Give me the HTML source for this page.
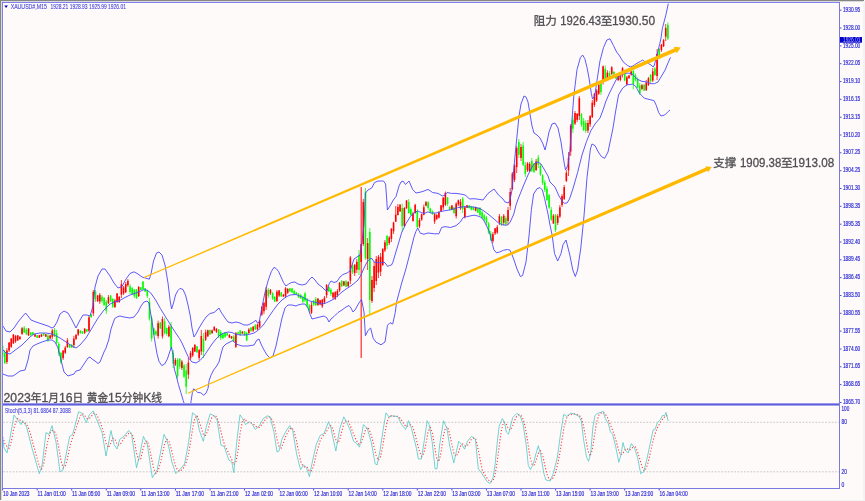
<!DOCTYPE html><html><head><meta charset="utf-8"><title>XAUUSD M15</title><style>
html,body{margin:0;padding:0;background:#fffafa;overflow:hidden;}
svg{display:block;}
.ax{font-family:"Liberation Sans",sans-serif;font-size:6.4px;fill:#2020d4;stroke:#3030d8;stroke-width:0.16px;}
.ax2{font-family:"Liberation Sans",sans-serif;font-size:6.5px;fill:#3434dc;stroke:#5050e4;stroke-width:0.08px;}
.cn{font-family:"Liberation Sans","Noto Sans CJK SC",sans-serif;fill:#4e4e52;stroke:#4e4e52;stroke-width:0.3px;}
</style></head><body>
<svg width="865" height="501" viewBox="0 0 865 501">
<rect x="0" y="0" width="865" height="501" fill="#fffafa"/>
<rect x="0" y="0" width="864" height="1" fill="#858783"/>
<rect x="0" y="0" width="1" height="500" fill="#858783"/>
<rect x="1" y="1" width="862" height="1" fill="#dcd8e0"/>
<rect x="1" y="1" width="1" height="499" fill="#dcd8e0"/>
<rect x="863" y="1" width="2" height="500" fill="#f3f3f3"/>
<rect x="0" y="500" width="865" height="1" fill="#f3f3f3"/>
<rect x="3" y="3" width="836" height="1" fill="#fcfffc"/>
<rect x="3" y="3" width="1" height="485" fill="#fcfffc"/>
<defs><clipPath id="cm"><rect x="3" y="3" width="836" height="400"/></clipPath>
<clipPath id="cs"><rect x="3" y="405" width="836" height="83"/></clipPath></defs>
<g clip-path="url(#cm)">
<line x1="2.60" y1="344.0" x2="2.60" y2="358.0" stroke="#00ff00" stroke-width="0.75"/>
<rect x="1.80" y="345.6" width="1.6" height="11.3" fill="#00ff00"/>
<line x1="4.76" y1="350.0" x2="4.76" y2="364.0" stroke="#00ff00" stroke-width="0.75"/>
<rect x="3.96" y="352.5" width="1.6" height="10.6" fill="#00ff00"/>
<line x1="6.92" y1="348.0" x2="6.92" y2="364.0" stroke="#ff0000" stroke-width="0.75"/>
<rect x="6.12" y="350.5" width="1.6" height="11.5" fill="#ff0000"/>
<line x1="9.08" y1="342.0" x2="9.08" y2="352.0" stroke="#ff0000" stroke-width="0.75"/>
<rect x="8.28" y="342.6" width="1.6" height="7.9" fill="#ff0000"/>
<line x1="11.24" y1="338.0" x2="11.24" y2="348.0" stroke="#ff0000" stroke-width="0.75"/>
<rect x="10.44" y="338.6" width="1.6" height="8.1" fill="#ff0000"/>
<line x1="13.40" y1="334.0" x2="13.40" y2="344.0" stroke="#ff0000" stroke-width="0.75"/>
<rect x="12.60" y="334.6" width="1.6" height="8.7" fill="#ff0000"/>
<line x1="15.56" y1="335.0" x2="15.56" y2="343.0" stroke="#ff0000" stroke-width="0.75"/>
<rect x="14.76" y="336.1" width="1.6" height="5.2" fill="#ff0000"/>
<line x1="17.72" y1="335.0" x2="17.72" y2="341.0" stroke="#ff0000" stroke-width="0.75"/>
<rect x="16.92" y="335.4" width="1.6" height="5.0" fill="#ff0000"/>
<line x1="19.88" y1="336.0" x2="19.88" y2="340.0" stroke="#ff0000" stroke-width="0.75"/>
<rect x="19.08" y="336.7" width="1.6" height="2.3" fill="#ff0000"/>
<line x1="22.04" y1="327.0" x2="22.04" y2="335.0" stroke="#ff0000" stroke-width="0.75"/>
<rect x="21.24" y="328.3" width="1.6" height="5.6" fill="#ff0000"/>
<line x1="24.20" y1="326.0" x2="24.20" y2="333.0" stroke="#00ff00" stroke-width="0.75"/>
<rect x="23.40" y="327.7" width="1.6" height="4.9" fill="#00ff00"/>
<line x1="26.36" y1="328.0" x2="26.36" y2="335.0" stroke="#00ff00" stroke-width="0.75"/>
<rect x="25.56" y="329.6" width="1.6" height="4.7" fill="#00ff00"/>
<line x1="28.52" y1="328.0" x2="28.52" y2="336.0" stroke="#ff0000" stroke-width="0.75"/>
<rect x="27.72" y="328.6" width="1.6" height="6.8" fill="#ff0000"/>
<line x1="30.68" y1="332.0" x2="30.68" y2="336.0" stroke="#00ff00" stroke-width="0.75"/>
<rect x="29.88" y="332.4" width="1.6" height="2.7" fill="#00ff00"/>
<line x1="32.84" y1="332.0" x2="32.84" y2="335.0" stroke="#00ff00" stroke-width="0.75"/>
<rect x="32.04" y="332.3" width="1.6" height="2.2" fill="#00ff00"/>
<line x1="35.00" y1="334.0" x2="35.00" y2="337.0" stroke="#ff0000" stroke-width="0.75"/>
<rect x="34.20" y="334.5" width="1.6" height="2.1" fill="#ff0000"/>
<line x1="37.16" y1="335.0" x2="37.16" y2="338.0" stroke="#00ff00" stroke-width="0.75"/>
<rect x="36.36" y="335.5" width="1.6" height="2.3" fill="#00ff00"/>
<line x1="39.32" y1="335.0" x2="39.32" y2="338.0" stroke="#ff0000" stroke-width="0.75"/>
<rect x="38.52" y="335.2" width="1.6" height="2.5" fill="#ff0000"/>
<line x1="41.48" y1="334.0" x2="41.48" y2="337.0" stroke="#ff0000" stroke-width="0.75"/>
<rect x="40.68" y="334.6" width="1.6" height="2.0" fill="#ff0000"/>
<line x1="43.64" y1="333.0" x2="43.64" y2="336.0" stroke="#00ff00" stroke-width="0.75"/>
<rect x="42.84" y="333.3" width="1.6" height="2.2" fill="#00ff00"/>
<line x1="45.80" y1="334.0" x2="45.80" y2="337.0" stroke="#ff0000" stroke-width="0.75"/>
<rect x="45.00" y="334.4" width="1.6" height="2.2" fill="#ff0000"/>
<line x1="47.96" y1="334.0" x2="47.96" y2="342.0" stroke="#00ff00" stroke-width="0.75"/>
<rect x="47.16" y="335.7" width="1.6" height="4.8" fill="#00ff00"/>
<line x1="50.12" y1="335.0" x2="50.12" y2="339.0" stroke="#ff0000" stroke-width="0.75"/>
<rect x="49.32" y="335.4" width="1.6" height="2.9" fill="#ff0000"/>
<line x1="52.28" y1="329.0" x2="52.28" y2="339.0" stroke="#ff0000" stroke-width="0.75"/>
<rect x="51.48" y="330.6" width="1.6" height="6.2" fill="#ff0000"/>
<line x1="54.44" y1="328.0" x2="54.44" y2="337.0" stroke="#00ff00" stroke-width="0.75"/>
<rect x="53.64" y="329.8" width="1.6" height="6.3" fill="#00ff00"/>
<line x1="56.60" y1="330.0" x2="56.60" y2="344.0" stroke="#00ff00" stroke-width="0.75"/>
<rect x="55.80" y="333.4" width="1.6" height="9.5" fill="#00ff00"/>
<line x1="58.76" y1="342.0" x2="58.76" y2="356.0" stroke="#00ff00" stroke-width="0.75"/>
<rect x="57.96" y="343.9" width="1.6" height="9.3" fill="#00ff00"/>
<line x1="60.92" y1="352.0" x2="60.92" y2="364.0" stroke="#00ff00" stroke-width="0.75"/>
<rect x="60.12" y="353.0" width="1.6" height="9.3" fill="#00ff00"/>
<line x1="63.08" y1="350.0" x2="63.08" y2="360.0" stroke="#ff0000" stroke-width="0.75"/>
<rect x="62.28" y="350.6" width="1.6" height="7.6" fill="#ff0000"/>
<line x1="65.24" y1="346.0" x2="65.24" y2="354.0" stroke="#ff0000" stroke-width="0.75"/>
<rect x="64.44" y="347.6" width="1.6" height="5.1" fill="#ff0000"/>
<line x1="67.40" y1="338.0" x2="67.40" y2="348.0" stroke="#ff0000" stroke-width="0.75"/>
<rect x="66.60" y="340.3" width="1.6" height="6.6" fill="#ff0000"/>
<line x1="69.56" y1="344.0" x2="69.56" y2="348.0" stroke="#00ff00" stroke-width="0.75"/>
<rect x="68.76" y="344.8" width="1.6" height="2.6" fill="#00ff00"/>
<line x1="71.72" y1="344.0" x2="71.72" y2="348.0" stroke="#00ff00" stroke-width="0.75"/>
<rect x="70.92" y="344.7" width="1.6" height="2.8" fill="#00ff00"/>
<line x1="73.88" y1="336.0" x2="73.88" y2="348.0" stroke="#ff0000" stroke-width="0.75"/>
<rect x="73.08" y="338.6" width="1.6" height="6.5" fill="#ff0000"/>
<line x1="76.04" y1="334.0" x2="76.04" y2="340.0" stroke="#ff0000" stroke-width="0.75"/>
<rect x="75.24" y="334.9" width="1.6" height="4.0" fill="#ff0000"/>
<line x1="78.20" y1="329.0" x2="78.20" y2="336.0" stroke="#ff0000" stroke-width="0.75"/>
<rect x="77.40" y="329.4" width="1.6" height="5.2" fill="#ff0000"/>
<line x1="80.36" y1="330.0" x2="80.36" y2="334.0" stroke="#00ff00" stroke-width="0.75"/>
<rect x="79.56" y="330.7" width="1.6" height="2.3" fill="#00ff00"/>
<line x1="82.52" y1="331.0" x2="82.52" y2="334.0" stroke="#00ff00" stroke-width="0.75"/>
<rect x="81.72" y="331.6" width="1.6" height="2.0" fill="#00ff00"/>
<line x1="84.68" y1="328.0" x2="84.68" y2="334.0" stroke="#ff0000" stroke-width="0.75"/>
<rect x="83.88" y="328.8" width="1.6" height="4.1" fill="#ff0000"/>
<line x1="86.84" y1="329.0" x2="86.84" y2="332.0" stroke="#00ff00" stroke-width="0.75"/>
<rect x="86.04" y="329.2" width="1.6" height="2.4" fill="#00ff00"/>
<line x1="89.00" y1="316.0" x2="89.00" y2="332.0" stroke="#ff0000" stroke-width="0.75"/>
<rect x="88.20" y="317.3" width="1.6" height="13.5" fill="#ff0000"/>
<line x1="91.16" y1="314.0" x2="91.16" y2="318.0" stroke="#00ff00" stroke-width="0.75"/>
<rect x="90.36" y="314.2" width="1.6" height="2.9" fill="#00ff00"/>
<line x1="93.32" y1="290.0" x2="93.32" y2="316.0" stroke="#ff0000" stroke-width="0.75"/>
<rect x="92.52" y="292.0" width="1.6" height="21.4" fill="#ff0000"/>
<line x1="95.48" y1="290.0" x2="95.48" y2="302.0" stroke="#00ff00" stroke-width="0.75"/>
<rect x="94.68" y="291.5" width="1.6" height="7.8" fill="#00ff00"/>
<line x1="97.64" y1="295.0" x2="97.64" y2="302.0" stroke="#ff0000" stroke-width="0.75"/>
<rect x="96.84" y="295.5" width="1.6" height="5.6" fill="#ff0000"/>
<line x1="99.80" y1="293.0" x2="99.80" y2="304.0" stroke="#ff0000" stroke-width="0.75"/>
<rect x="99.00" y="294.8" width="1.6" height="6.7" fill="#ff0000"/>
<line x1="101.96" y1="295.0" x2="101.96" y2="303.0" stroke="#00ff00" stroke-width="0.75"/>
<rect x="101.16" y="296.7" width="1.6" height="4.5" fill="#00ff00"/>
<line x1="104.12" y1="297.0" x2="104.12" y2="306.0" stroke="#00ff00" stroke-width="0.75"/>
<rect x="103.32" y="298.0" width="1.6" height="6.9" fill="#00ff00"/>
<line x1="106.28" y1="300.0" x2="106.28" y2="314.0" stroke="#00ff00" stroke-width="0.75"/>
<rect x="105.48" y="301.7" width="1.6" height="9.1" fill="#00ff00"/>
<line x1="108.44" y1="295.0" x2="108.44" y2="304.0" stroke="#ff0000" stroke-width="0.75"/>
<rect x="107.64" y="297.2" width="1.6" height="6.1" fill="#ff0000"/>
<line x1="110.60" y1="295.0" x2="110.60" y2="302.0" stroke="#00ff00" stroke-width="0.75"/>
<rect x="109.80" y="295.6" width="1.6" height="5.7" fill="#00ff00"/>
<line x1="112.76" y1="298.0" x2="112.76" y2="308.0" stroke="#00ff00" stroke-width="0.75"/>
<rect x="111.96" y="299.0" width="1.6" height="7.6" fill="#00ff00"/>
<line x1="114.92" y1="299.0" x2="114.92" y2="308.0" stroke="#ff0000" stroke-width="0.75"/>
<rect x="114.12" y="300.5" width="1.6" height="6.6" fill="#ff0000"/>
<line x1="117.08" y1="293.0" x2="117.08" y2="303.0" stroke="#ff0000" stroke-width="0.75"/>
<rect x="116.28" y="293.5" width="1.6" height="8.2" fill="#ff0000"/>
<line x1="119.24" y1="296.0" x2="119.24" y2="303.0" stroke="#ff0000" stroke-width="0.75"/>
<rect x="118.44" y="296.9" width="1.6" height="5.0" fill="#ff0000"/>
<line x1="121.40" y1="280.0" x2="121.40" y2="298.0" stroke="#ff0000" stroke-width="0.75"/>
<rect x="120.60" y="284.3" width="1.6" height="10.3" fill="#ff0000"/>
<line x1="123.56" y1="286.0" x2="123.56" y2="295.0" stroke="#ff0000" stroke-width="0.75"/>
<rect x="122.76" y="287.4" width="1.6" height="6.1" fill="#ff0000"/>
<line x1="125.72" y1="282.0" x2="125.72" y2="293.0" stroke="#ff0000" stroke-width="0.75"/>
<rect x="124.92" y="284.0" width="1.6" height="8.3" fill="#ff0000"/>
<line x1="127.88" y1="279.0" x2="127.88" y2="287.0" stroke="#ff0000" stroke-width="0.75"/>
<rect x="127.08" y="280.8" width="1.6" height="4.5" fill="#ff0000"/>
<line x1="130.04" y1="284.0" x2="130.04" y2="294.0" stroke="#00ff00" stroke-width="0.75"/>
<rect x="129.24" y="286.2" width="1.6" height="5.7" fill="#00ff00"/>
<line x1="132.20" y1="287.0" x2="132.20" y2="295.0" stroke="#00ff00" stroke-width="0.75"/>
<rect x="131.40" y="288.0" width="1.6" height="5.9" fill="#00ff00"/>
<line x1="134.36" y1="289.0" x2="134.36" y2="298.0" stroke="#00ff00" stroke-width="0.75"/>
<rect x="133.56" y="289.6" width="1.6" height="6.8" fill="#00ff00"/>
<line x1="136.52" y1="289.0" x2="136.52" y2="299.0" stroke="#00ff00" stroke-width="0.75"/>
<rect x="135.72" y="289.6" width="1.6" height="8.7" fill="#00ff00"/>
<line x1="138.68" y1="286.0" x2="138.68" y2="297.0" stroke="#ff0000" stroke-width="0.75"/>
<rect x="137.88" y="287.0" width="1.6" height="9.1" fill="#ff0000"/>
<line x1="140.84" y1="287.0" x2="140.84" y2="290.0" stroke="#00ff00" stroke-width="0.75"/>
<rect x="140.04" y="287.4" width="1.6" height="2.5" fill="#00ff00"/>
<line x1="143.00" y1="281.0" x2="143.00" y2="290.0" stroke="#00ff00" stroke-width="0.75"/>
<rect x="142.20" y="281.5" width="1.6" height="7.8" fill="#00ff00"/>
<line x1="145.16" y1="288.0" x2="145.16" y2="292.0" stroke="#00ff00" stroke-width="0.75"/>
<rect x="144.36" y="288.3" width="1.6" height="3.2" fill="#00ff00"/>
<line x1="147.32" y1="290.0" x2="147.32" y2="298.0" stroke="#00ff00" stroke-width="0.75"/>
<rect x="146.52" y="290.4" width="1.6" height="5.8" fill="#00ff00"/>
<line x1="149.48" y1="298.0" x2="149.48" y2="320.6" stroke="#00ff00" stroke-width="0.75"/>
<rect x="148.68" y="301.9" width="1.6" height="16.9" fill="#00ff00"/>
<line x1="151.64" y1="316.0" x2="151.64" y2="341.5" stroke="#00ff00" stroke-width="0.75"/>
<rect x="150.84" y="318.6" width="1.6" height="19.9" fill="#00ff00"/>
<line x1="153.80" y1="327.6" x2="153.80" y2="335.0" stroke="#00ff00" stroke-width="0.75"/>
<rect x="153.00" y="328.5" width="1.6" height="5.9" fill="#00ff00"/>
<line x1="155.96" y1="330.0" x2="155.96" y2="336.0" stroke="#00ff00" stroke-width="0.75"/>
<rect x="155.16" y="331.3" width="1.6" height="3.2" fill="#00ff00"/>
<line x1="158.12" y1="320.6" x2="158.12" y2="338.7" stroke="#ff0000" stroke-width="0.75"/>
<rect x="157.32" y="323.2" width="1.6" height="12.9" fill="#ff0000"/>
<line x1="160.28" y1="322.0" x2="160.28" y2="329.0" stroke="#00ff00" stroke-width="0.75"/>
<rect x="159.48" y="322.5" width="1.6" height="6.0" fill="#00ff00"/>
<line x1="162.44" y1="316.4" x2="162.44" y2="338.7" stroke="#ff0000" stroke-width="0.75"/>
<rect x="161.64" y="319.0" width="1.6" height="17.4" fill="#ff0000"/>
<line x1="164.60" y1="317.8" x2="164.60" y2="334.5" stroke="#00ff00" stroke-width="0.75"/>
<rect x="163.80" y="321.4" width="1.6" height="11.7" fill="#00ff00"/>
<line x1="166.76" y1="327.6" x2="166.76" y2="336.0" stroke="#00ff00" stroke-width="0.75"/>
<rect x="165.96" y="328.1" width="1.6" height="5.9" fill="#00ff00"/>
<line x1="168.92" y1="324.8" x2="168.92" y2="337.3" stroke="#ff0000" stroke-width="0.75"/>
<rect x="168.12" y="326.7" width="1.6" height="9.6" fill="#ff0000"/>
<line x1="171.08" y1="322.0" x2="171.08" y2="350.0" stroke="#00ff00" stroke-width="0.75"/>
<rect x="170.28" y="326.4" width="1.6" height="22.0" fill="#00ff00"/>
<line x1="173.24" y1="350.0" x2="173.24" y2="368.0" stroke="#00ff00" stroke-width="0.75"/>
<rect x="172.44" y="352.8" width="1.6" height="10.8" fill="#00ff00"/>
<line x1="175.40" y1="358.0" x2="175.40" y2="366.0" stroke="#ff0000" stroke-width="0.75"/>
<rect x="174.60" y="359.8" width="1.6" height="4.7" fill="#ff0000"/>
<line x1="177.56" y1="358.0" x2="177.56" y2="379.0" stroke="#00ff00" stroke-width="0.75"/>
<rect x="176.76" y="360.1" width="1.6" height="16.3" fill="#00ff00"/>
<line x1="179.72" y1="358.0" x2="179.72" y2="369.0" stroke="#00ff00" stroke-width="0.75"/>
<rect x="178.92" y="358.9" width="1.6" height="7.8" fill="#00ff00"/>
<line x1="181.88" y1="360.0" x2="181.88" y2="370.0" stroke="#ff0000" stroke-width="0.75"/>
<rect x="181.08" y="361.6" width="1.6" height="6.4" fill="#ff0000"/>
<line x1="184.04" y1="364.0" x2="184.04" y2="378.0" stroke="#00ff00" stroke-width="0.75"/>
<rect x="183.24" y="365.6" width="1.6" height="11.1" fill="#00ff00"/>
<line x1="186.20" y1="364.0" x2="186.20" y2="394.0" stroke="#00ff00" stroke-width="0.75"/>
<rect x="185.40" y="370.4" width="1.6" height="16.2" fill="#00ff00"/>
<line x1="188.36" y1="358.0" x2="188.36" y2="379.0" stroke="#ff0000" stroke-width="0.75"/>
<rect x="187.56" y="362.6" width="1.6" height="11.9" fill="#ff0000"/>
<line x1="190.52" y1="351.0" x2="190.52" y2="360.0" stroke="#ff0000" stroke-width="0.75"/>
<rect x="189.72" y="352.9" width="1.6" height="5.3" fill="#ff0000"/>
<line x1="192.68" y1="347.0" x2="192.68" y2="357.0" stroke="#ff0000" stroke-width="0.75"/>
<rect x="191.88" y="348.0" width="1.6" height="7.5" fill="#ff0000"/>
<line x1="194.84" y1="344.0" x2="194.84" y2="352.0" stroke="#ff0000" stroke-width="0.75"/>
<rect x="194.04" y="345.0" width="1.6" height="6.6" fill="#ff0000"/>
<line x1="197.00" y1="346.0" x2="197.00" y2="353.0" stroke="#00ff00" stroke-width="0.75"/>
<rect x="196.20" y="346.4" width="1.6" height="5.9" fill="#00ff00"/>
<line x1="199.16" y1="349.0" x2="199.16" y2="360.0" stroke="#ff0000" stroke-width="0.75"/>
<rect x="198.36" y="350.1" width="1.6" height="7.8" fill="#ff0000"/>
<line x1="201.32" y1="330.0" x2="201.32" y2="355.0" stroke="#ff0000" stroke-width="0.75"/>
<rect x="200.52" y="336.0" width="1.6" height="15.5" fill="#ff0000"/>
<line x1="203.48" y1="333.0" x2="203.48" y2="358.0" stroke="#00ff00" stroke-width="0.75"/>
<rect x="202.68" y="338.9" width="1.6" height="12.9" fill="#00ff00"/>
<line x1="205.64" y1="329.6" x2="205.64" y2="341.0" stroke="#ff0000" stroke-width="0.75"/>
<rect x="204.84" y="332.3" width="1.6" height="7.3" fill="#ff0000"/>
<line x1="207.80" y1="329.6" x2="207.80" y2="337.0" stroke="#ff0000" stroke-width="0.75"/>
<rect x="207.00" y="330.3" width="1.6" height="6.0" fill="#ff0000"/>
<line x1="209.96" y1="329.6" x2="209.96" y2="335.0" stroke="#00ff00" stroke-width="0.75"/>
<rect x="209.16" y="330.1" width="1.6" height="4.4" fill="#00ff00"/>
<line x1="212.12" y1="329.6" x2="212.12" y2="334.0" stroke="#ff0000" stroke-width="0.75"/>
<rect x="211.32" y="330.4" width="1.6" height="2.6" fill="#ff0000"/>
<line x1="214.28" y1="326.0" x2="214.28" y2="331.0" stroke="#ff0000" stroke-width="0.75"/>
<rect x="213.48" y="327.1" width="1.6" height="3.2" fill="#ff0000"/>
<line x1="216.44" y1="328.0" x2="216.44" y2="333.0" stroke="#ff0000" stroke-width="0.75"/>
<rect x="215.64" y="328.9" width="1.6" height="3.0" fill="#ff0000"/>
<line x1="218.60" y1="329.0" x2="218.60" y2="338.0" stroke="#00ff00" stroke-width="0.75"/>
<rect x="217.80" y="329.6" width="1.6" height="6.8" fill="#00ff00"/>
<line x1="220.76" y1="330.0" x2="220.76" y2="340.0" stroke="#00ff00" stroke-width="0.75"/>
<rect x="219.96" y="332.3" width="1.6" height="5.6" fill="#00ff00"/>
<line x1="222.92" y1="333.0" x2="222.92" y2="339.0" stroke="#00ff00" stroke-width="0.75"/>
<rect x="222.12" y="334.2" width="1.6" height="3.9" fill="#00ff00"/>
<line x1="225.08" y1="332.0" x2="225.08" y2="338.0" stroke="#00ff00" stroke-width="0.75"/>
<rect x="224.28" y="332.5" width="1.6" height="4.2" fill="#00ff00"/>
<line x1="227.24" y1="333.0" x2="227.24" y2="336.0" stroke="#00ff00" stroke-width="0.75"/>
<rect x="226.44" y="333.3" width="1.6" height="2.0" fill="#00ff00"/>
<line x1="229.40" y1="334.0" x2="229.40" y2="338.0" stroke="#ff0000" stroke-width="0.75"/>
<rect x="228.60" y="335.0" width="1.6" height="2.5" fill="#ff0000"/>
<line x1="231.56" y1="336.0" x2="231.56" y2="339.0" stroke="#ff0000" stroke-width="0.75"/>
<rect x="230.76" y="336.4" width="1.6" height="1.9" fill="#ff0000"/>
<line x1="233.72" y1="335.0" x2="233.72" y2="342.0" stroke="#00ff00" stroke-width="0.75"/>
<rect x="232.92" y="336.4" width="1.6" height="5.0" fill="#00ff00"/>
<line x1="235.88" y1="332.0" x2="235.88" y2="348.0" stroke="#ff0000" stroke-width="0.75"/>
<rect x="235.08" y="333.2" width="1.6" height="13.5" fill="#ff0000"/>
<line x1="238.04" y1="331.8" x2="238.04" y2="334.2" stroke="#00ff00" stroke-width="0.75"/>
<rect x="237.24" y="332.3" width="1.6" height="1.4" fill="#00ff00"/>
<line x1="240.20" y1="330.0" x2="240.20" y2="336.0" stroke="#00ff00" stroke-width="0.75"/>
<rect x="239.40" y="330.5" width="1.6" height="4.2" fill="#00ff00"/>
<line x1="242.36" y1="331.0" x2="242.36" y2="334.0" stroke="#ff0000" stroke-width="0.75"/>
<rect x="241.56" y="331.7" width="1.6" height="1.7" fill="#ff0000"/>
<line x1="244.52" y1="331.0" x2="244.52" y2="336.0" stroke="#00ff00" stroke-width="0.75"/>
<rect x="243.72" y="331.6" width="1.6" height="3.6" fill="#00ff00"/>
<line x1="246.68" y1="332.0" x2="246.68" y2="341.0" stroke="#00ff00" stroke-width="0.75"/>
<rect x="245.88" y="332.7" width="1.6" height="7.8" fill="#00ff00"/>
<line x1="248.84" y1="328.0" x2="248.84" y2="334.0" stroke="#ff0000" stroke-width="0.75"/>
<rect x="248.04" y="329.5" width="1.6" height="3.5" fill="#ff0000"/>
<line x1="251.00" y1="327.0" x2="251.00" y2="332.0" stroke="#00ff00" stroke-width="0.75"/>
<rect x="250.20" y="327.8" width="1.6" height="3.0" fill="#00ff00"/>
<line x1="253.16" y1="326.0" x2="253.16" y2="332.0" stroke="#ff0000" stroke-width="0.75"/>
<rect x="252.36" y="326.8" width="1.6" height="3.8" fill="#ff0000"/>
<line x1="255.32" y1="324.0" x2="255.32" y2="330.0" stroke="#00ff00" stroke-width="0.75"/>
<rect x="254.52" y="325.3" width="1.6" height="4.2" fill="#00ff00"/>
<line x1="257.48" y1="324.0" x2="257.48" y2="330.0" stroke="#ff0000" stroke-width="0.75"/>
<rect x="256.68" y="324.6" width="1.6" height="4.7" fill="#ff0000"/>
<line x1="259.64" y1="320.0" x2="259.64" y2="328.0" stroke="#ff0000" stroke-width="0.75"/>
<rect x="258.84" y="320.8" width="1.6" height="5.9" fill="#ff0000"/>
<line x1="261.80" y1="306.0" x2="261.80" y2="316.0" stroke="#ff0000" stroke-width="0.75"/>
<rect x="261.00" y="307.0" width="1.6" height="7.6" fill="#ff0000"/>
<line x1="263.96" y1="302.0" x2="263.96" y2="314.0" stroke="#ff0000" stroke-width="0.75"/>
<rect x="263.16" y="302.9" width="1.6" height="8.3" fill="#ff0000"/>
<line x1="266.12" y1="287.0" x2="266.12" y2="310.0" stroke="#ff0000" stroke-width="0.75"/>
<rect x="265.32" y="289.8" width="1.6" height="17.0" fill="#ff0000"/>
<line x1="268.28" y1="288.0" x2="268.28" y2="298.0" stroke="#00ff00" stroke-width="0.75"/>
<rect x="267.48" y="289.7" width="1.6" height="6.0" fill="#00ff00"/>
<line x1="270.44" y1="289.0" x2="270.44" y2="295.0" stroke="#ff0000" stroke-width="0.75"/>
<rect x="269.64" y="289.8" width="1.6" height="3.8" fill="#ff0000"/>
<line x1="272.60" y1="292.0" x2="272.60" y2="300.0" stroke="#00ff00" stroke-width="0.75"/>
<rect x="271.80" y="293.2" width="1.6" height="5.5" fill="#00ff00"/>
<line x1="274.76" y1="296.0" x2="274.76" y2="302.0" stroke="#00ff00" stroke-width="0.75"/>
<rect x="273.96" y="296.9" width="1.6" height="4.7" fill="#00ff00"/>
<line x1="276.92" y1="290.0" x2="276.92" y2="302.0" stroke="#ff0000" stroke-width="0.75"/>
<rect x="276.12" y="291.7" width="1.6" height="9.3" fill="#ff0000"/>
<line x1="279.08" y1="290.0" x2="279.08" y2="297.0" stroke="#ff0000" stroke-width="0.75"/>
<rect x="278.28" y="290.4" width="1.6" height="5.2" fill="#ff0000"/>
<line x1="281.24" y1="292.0" x2="281.24" y2="297.0" stroke="#00ff00" stroke-width="0.75"/>
<rect x="280.44" y="292.4" width="1.6" height="3.9" fill="#00ff00"/>
<line x1="283.40" y1="294.0" x2="283.40" y2="297.0" stroke="#ff0000" stroke-width="0.75"/>
<rect x="282.60" y="294.6" width="1.6" height="1.9" fill="#ff0000"/>
<line x1="285.56" y1="287.0" x2="285.56" y2="298.0" stroke="#ff0000" stroke-width="0.75"/>
<rect x="284.76" y="288.3" width="1.6" height="8.0" fill="#ff0000"/>
<line x1="287.72" y1="288.0" x2="287.72" y2="294.0" stroke="#ff0000" stroke-width="0.75"/>
<rect x="286.92" y="289.0" width="1.6" height="3.8" fill="#ff0000"/>
<line x1="289.88" y1="288.0" x2="289.88" y2="292.0" stroke="#00ff00" stroke-width="0.75"/>
<rect x="289.08" y="288.3" width="1.6" height="3.1" fill="#00ff00"/>
<line x1="292.04" y1="288.0" x2="292.04" y2="293.0" stroke="#00ff00" stroke-width="0.75"/>
<rect x="291.24" y="288.5" width="1.6" height="4.0" fill="#00ff00"/>
<line x1="294.20" y1="290.0" x2="294.20" y2="295.0" stroke="#00ff00" stroke-width="0.75"/>
<rect x="293.40" y="291.0" width="1.6" height="3.2" fill="#00ff00"/>
<line x1="296.36" y1="292.0" x2="296.36" y2="295.0" stroke="#00ff00" stroke-width="0.75"/>
<rect x="295.56" y="292.5" width="1.6" height="1.9" fill="#00ff00"/>
<line x1="298.52" y1="293.0" x2="298.52" y2="298.0" stroke="#00ff00" stroke-width="0.75"/>
<rect x="297.72" y="294.2" width="1.6" height="3.1" fill="#00ff00"/>
<line x1="300.68" y1="294.0" x2="300.68" y2="299.0" stroke="#00ff00" stroke-width="0.75"/>
<rect x="299.88" y="294.9" width="1.6" height="3.4" fill="#00ff00"/>
<line x1="302.84" y1="296.0" x2="302.84" y2="303.0" stroke="#00ff00" stroke-width="0.75"/>
<rect x="302.04" y="297.1" width="1.6" height="4.6" fill="#00ff00"/>
<line x1="305.00" y1="292.0" x2="305.00" y2="302.0" stroke="#00ff00" stroke-width="0.75"/>
<rect x="304.20" y="293.4" width="1.6" height="7.0" fill="#00ff00"/>
<line x1="307.16" y1="298.0" x2="307.16" y2="308.0" stroke="#00ff00" stroke-width="0.75"/>
<rect x="306.36" y="299.5" width="1.6" height="6.2" fill="#00ff00"/>
<line x1="309.32" y1="304.0" x2="309.32" y2="312.0" stroke="#00ff00" stroke-width="0.75"/>
<rect x="308.52" y="305.5" width="1.6" height="4.7" fill="#00ff00"/>
<line x1="311.48" y1="302.0" x2="311.48" y2="314.0" stroke="#ff0000" stroke-width="0.75"/>
<rect x="310.68" y="304.9" width="1.6" height="7.9" fill="#ff0000"/>
<line x1="313.64" y1="300.0" x2="313.64" y2="306.0" stroke="#00ff00" stroke-width="0.75"/>
<rect x="312.84" y="301.0" width="1.6" height="3.6" fill="#00ff00"/>
<line x1="315.80" y1="297.0" x2="315.80" y2="306.0" stroke="#00ff00" stroke-width="0.75"/>
<rect x="315.00" y="299.0" width="1.6" height="6.3" fill="#00ff00"/>
<line x1="317.96" y1="298.0" x2="317.96" y2="306.0" stroke="#ff0000" stroke-width="0.75"/>
<rect x="317.16" y="298.6" width="1.6" height="6.3" fill="#ff0000"/>
<line x1="320.12" y1="300.0" x2="320.12" y2="305.0" stroke="#ff0000" stroke-width="0.75"/>
<rect x="319.32" y="300.3" width="1.6" height="4.2" fill="#ff0000"/>
<line x1="322.28" y1="299.0" x2="322.28" y2="308.0" stroke="#ff0000" stroke-width="0.75"/>
<rect x="321.48" y="299.6" width="1.6" height="6.8" fill="#ff0000"/>
<line x1="324.44" y1="296.0" x2="324.44" y2="304.0" stroke="#ff0000" stroke-width="0.75"/>
<rect x="323.64" y="297.7" width="1.6" height="4.5" fill="#ff0000"/>
<line x1="326.60" y1="284.0" x2="326.60" y2="298.0" stroke="#ff0000" stroke-width="0.75"/>
<rect x="325.80" y="285.1" width="1.6" height="10.2" fill="#ff0000"/>
<line x1="328.76" y1="286.0" x2="328.76" y2="292.0" stroke="#00ff00" stroke-width="0.75"/>
<rect x="327.96" y="287.1" width="1.6" height="4.4" fill="#00ff00"/>
<line x1="330.92" y1="288.0" x2="330.92" y2="296.0" stroke="#00ff00" stroke-width="0.75"/>
<rect x="330.12" y="289.8" width="1.6" height="4.2" fill="#00ff00"/>
<line x1="333.08" y1="292.0" x2="333.08" y2="299.0" stroke="#ff0000" stroke-width="0.75"/>
<rect x="332.28" y="292.7" width="1.6" height="4.7" fill="#ff0000"/>
<line x1="335.24" y1="291.0" x2="335.24" y2="300.0" stroke="#ff0000" stroke-width="0.75"/>
<rect x="334.44" y="292.2" width="1.6" height="6.5" fill="#ff0000"/>
<line x1="337.40" y1="289.0" x2="337.40" y2="297.0" stroke="#ff0000" stroke-width="0.75"/>
<rect x="336.60" y="291.0" width="1.6" height="4.3" fill="#ff0000"/>
<line x1="339.56" y1="282.0" x2="339.56" y2="292.0" stroke="#ff0000" stroke-width="0.75"/>
<rect x="338.76" y="282.8" width="1.6" height="7.8" fill="#ff0000"/>
<line x1="341.72" y1="280.0" x2="341.72" y2="287.0" stroke="#00ff00" stroke-width="0.75"/>
<rect x="340.92" y="281.1" width="1.6" height="5.1" fill="#00ff00"/>
<line x1="343.88" y1="281.0" x2="343.88" y2="286.0" stroke="#ff0000" stroke-width="0.75"/>
<rect x="343.08" y="281.4" width="1.6" height="4.0" fill="#ff0000"/>
<line x1="346.04" y1="280.0" x2="346.04" y2="287.0" stroke="#00ff00" stroke-width="0.75"/>
<rect x="345.24" y="281.4" width="1.6" height="5.3" fill="#00ff00"/>
<line x1="348.20" y1="281.0" x2="348.20" y2="287.0" stroke="#ff0000" stroke-width="0.75"/>
<rect x="347.40" y="282.0" width="1.6" height="4.2" fill="#ff0000"/>
<line x1="350.36" y1="256.0" x2="350.36" y2="284.0" stroke="#ff0000" stroke-width="0.75"/>
<rect x="349.56" y="257.5" width="1.6" height="23.2" fill="#ff0000"/>
<line x1="352.52" y1="264.0" x2="352.52" y2="274.0" stroke="#00ff00" stroke-width="0.75"/>
<rect x="351.72" y="265.7" width="1.6" height="6.7" fill="#00ff00"/>
<line x1="354.68" y1="264.0" x2="354.68" y2="276.0" stroke="#ff0000" stroke-width="0.75"/>
<rect x="353.88" y="264.8" width="1.6" height="8.3" fill="#ff0000"/>
<line x1="356.84" y1="259.0" x2="356.84" y2="273.0" stroke="#ff0000" stroke-width="0.75"/>
<rect x="356.04" y="261.9" width="1.6" height="7.7" fill="#ff0000"/>
<line x1="359.00" y1="250.0" x2="359.00" y2="275.0" stroke="#00ff00" stroke-width="0.75"/>
<rect x="358.20" y="255.0" width="1.6" height="15.0" fill="#00ff00"/>
<line x1="361.16" y1="187.0" x2="361.16" y2="358.0" stroke="#ff0000" stroke-width="1.0"/>
<rect x="360.36" y="244.0" width="1.6" height="18.0" fill="#ff0000"/>
<line x1="363.32" y1="199.0" x2="363.32" y2="246.0" stroke="#ff0000" stroke-width="0.75"/>
<rect x="362.52" y="202.0" width="1.6" height="42.0" fill="#ff0000"/>
<line x1="365.48" y1="188.0" x2="365.48" y2="260.0" stroke="#00ff00" stroke-width="0.75"/>
<rect x="364.68" y="192.0" width="1.6" height="66.0" fill="#00ff00"/>
<line x1="367.64" y1="238.0" x2="367.64" y2="270.0" stroke="#ff0000" stroke-width="0.75"/>
<rect x="366.84" y="243.0" width="1.6" height="16.0" fill="#ff0000"/>
<line x1="369.80" y1="228.0" x2="369.80" y2="315.0" stroke="#00ff00" stroke-width="0.75"/>
<rect x="369.00" y="232.0" width="1.6" height="68.0" fill="#00ff00"/>
<line x1="371.96" y1="276.0" x2="371.96" y2="303.0" stroke="#ff0000" stroke-width="0.75"/>
<rect x="371.16" y="280.0" width="1.6" height="21.0" fill="#ff0000"/>
<line x1="374.12" y1="262.0" x2="374.12" y2="292.0" stroke="#ff0000" stroke-width="0.75"/>
<rect x="373.32" y="266.0" width="1.6" height="22.0" fill="#ff0000"/>
<line x1="376.28" y1="256.0" x2="376.28" y2="285.0" stroke="#ff0000" stroke-width="0.75"/>
<rect x="375.48" y="259.0" width="1.6" height="22.0" fill="#ff0000"/>
<line x1="378.44" y1="255.0" x2="378.44" y2="278.0" stroke="#ff0000" stroke-width="0.75"/>
<rect x="377.64" y="256.8" width="1.6" height="15.8" fill="#ff0000"/>
<line x1="380.60" y1="253.0" x2="380.60" y2="276.0" stroke="#ff0000" stroke-width="0.75"/>
<rect x="379.80" y="256.8" width="1.6" height="14.9" fill="#ff0000"/>
<line x1="382.76" y1="248.0" x2="382.76" y2="266.0" stroke="#ff0000" stroke-width="0.75"/>
<rect x="381.96" y="249.2" width="1.6" height="15.7" fill="#ff0000"/>
<line x1="384.92" y1="240.0" x2="384.92" y2="252.0" stroke="#ff0000" stroke-width="0.75"/>
<rect x="384.12" y="242.3" width="1.6" height="8.1" fill="#ff0000"/>
<line x1="387.08" y1="235.0" x2="387.08" y2="249.0" stroke="#00ff00" stroke-width="0.75"/>
<rect x="386.28" y="235.9" width="1.6" height="9.8" fill="#00ff00"/>
<line x1="389.24" y1="236.0" x2="389.24" y2="245.0" stroke="#ff0000" stroke-width="0.75"/>
<rect x="388.44" y="237.6" width="1.6" height="5.5" fill="#ff0000"/>
<line x1="391.40" y1="228.0" x2="391.40" y2="242.0" stroke="#ff0000" stroke-width="0.75"/>
<rect x="390.60" y="228.9" width="1.6" height="10.0" fill="#ff0000"/>
<line x1="393.56" y1="221.7" x2="393.56" y2="234.0" stroke="#ff0000" stroke-width="0.75"/>
<rect x="392.76" y="222.5" width="1.6" height="8.8" fill="#ff0000"/>
<line x1="395.72" y1="206.0" x2="395.72" y2="222.0" stroke="#ff0000" stroke-width="0.75"/>
<rect x="394.92" y="214.5" width="1.6" height="7.2" fill="#ff0000"/>
<line x1="397.88" y1="204.0" x2="397.88" y2="215.4" stroke="#ff0000" stroke-width="0.75"/>
<rect x="397.08" y="207.0" width="1.6" height="8.0" fill="#ff0000"/>
<line x1="400.04" y1="204.0" x2="400.04" y2="212.0" stroke="#ff0000" stroke-width="0.75"/>
<rect x="399.24" y="204.8" width="1.6" height="6.6" fill="#ff0000"/>
<line x1="402.20" y1="203.7" x2="402.20" y2="231.5" stroke="#00ff00" stroke-width="0.75"/>
<rect x="401.40" y="208.0" width="1.6" height="18.0" fill="#00ff00"/>
<line x1="404.36" y1="207.0" x2="404.36" y2="227.0" stroke="#ff0000" stroke-width="0.75"/>
<rect x="403.56" y="208.0" width="1.6" height="18.0" fill="#ff0000"/>
<line x1="406.52" y1="200.0" x2="406.52" y2="209.0" stroke="#ff0000" stroke-width="0.75"/>
<rect x="405.72" y="200.5" width="1.6" height="7.6" fill="#ff0000"/>
<line x1="408.68" y1="199.0" x2="408.68" y2="213.6" stroke="#00ff00" stroke-width="0.75"/>
<rect x="407.88" y="202.0" width="1.6" height="11.0" fill="#00ff00"/>
<line x1="410.84" y1="207.3" x2="410.84" y2="216.0" stroke="#00ff00" stroke-width="0.75"/>
<rect x="410.04" y="209.1" width="1.6" height="6.0" fill="#00ff00"/>
<line x1="413.00" y1="211.8" x2="413.00" y2="221.7" stroke="#ff0000" stroke-width="0.75"/>
<rect x="412.20" y="213.3" width="1.6" height="7.6" fill="#ff0000"/>
<line x1="415.16" y1="203.7" x2="415.16" y2="213.6" stroke="#ff0000" stroke-width="0.75"/>
<rect x="414.36" y="204.9" width="1.6" height="8.2" fill="#ff0000"/>
<line x1="417.32" y1="209.0" x2="417.32" y2="228.0" stroke="#00ff00" stroke-width="0.75"/>
<rect x="416.52" y="211.0" width="1.6" height="16.0" fill="#00ff00"/>
<line x1="419.48" y1="218.0" x2="419.48" y2="228.0" stroke="#ff0000" stroke-width="0.75"/>
<rect x="418.68" y="220.0" width="1.6" height="6.4" fill="#ff0000"/>
<line x1="421.64" y1="213.6" x2="421.64" y2="220.8" stroke="#ff0000" stroke-width="0.75"/>
<rect x="420.84" y="214.2" width="1.6" height="5.5" fill="#ff0000"/>
<line x1="423.80" y1="204.6" x2="423.80" y2="215.4" stroke="#ff0000" stroke-width="0.75"/>
<rect x="423.00" y="207.2" width="1.6" height="7.5" fill="#ff0000"/>
<line x1="425.96" y1="201.0" x2="425.96" y2="206.4" stroke="#ff0000" stroke-width="0.75"/>
<rect x="425.16" y="202.2" width="1.6" height="3.5" fill="#ff0000"/>
<line x1="428.12" y1="201.0" x2="428.12" y2="210.0" stroke="#00ff00" stroke-width="0.75"/>
<rect x="427.32" y="202.3" width="1.6" height="5.7" fill="#00ff00"/>
<line x1="430.28" y1="207.7" x2="430.28" y2="213.0" stroke="#00ff00" stroke-width="0.75"/>
<rect x="429.48" y="208.4" width="1.6" height="3.8" fill="#00ff00"/>
<line x1="432.44" y1="210.4" x2="432.44" y2="215.0" stroke="#00ff00" stroke-width="0.75"/>
<rect x="431.64" y="211.3" width="1.6" height="2.6" fill="#00ff00"/>
<line x1="434.60" y1="213.0" x2="434.60" y2="224.0" stroke="#ff0000" stroke-width="0.75"/>
<rect x="433.80" y="214.3" width="1.6" height="7.3" fill="#ff0000"/>
<line x1="436.76" y1="214.0" x2="436.76" y2="220.0" stroke="#ff0000" stroke-width="0.75"/>
<rect x="435.96" y="215.1" width="1.6" height="3.8" fill="#ff0000"/>
<line x1="438.92" y1="211.3" x2="438.92" y2="218.5" stroke="#ff0000" stroke-width="0.75"/>
<rect x="438.12" y="212.2" width="1.6" height="5.4" fill="#ff0000"/>
<line x1="441.08" y1="205.0" x2="441.08" y2="212.0" stroke="#ff0000" stroke-width="0.75"/>
<rect x="440.28" y="205.4" width="1.6" height="6.0" fill="#ff0000"/>
<line x1="443.24" y1="197.0" x2="443.24" y2="210.0" stroke="#ff0000" stroke-width="0.75"/>
<rect x="442.44" y="197.8" width="1.6" height="9.6" fill="#ff0000"/>
<line x1="445.40" y1="191.5" x2="445.40" y2="206.0" stroke="#ff0000" stroke-width="0.75"/>
<rect x="444.60" y="193.0" width="1.6" height="11.8" fill="#ff0000"/>
<line x1="447.56" y1="197.0" x2="447.56" y2="206.0" stroke="#00ff00" stroke-width="0.75"/>
<rect x="446.76" y="197.6" width="1.6" height="6.4" fill="#00ff00"/>
<line x1="449.72" y1="206.0" x2="449.72" y2="210.4" stroke="#00ff00" stroke-width="0.75"/>
<rect x="448.92" y="207.0" width="1.6" height="2.6" fill="#00ff00"/>
<line x1="451.88" y1="205.0" x2="451.88" y2="210.0" stroke="#ff0000" stroke-width="0.75"/>
<rect x="451.08" y="205.5" width="1.6" height="4.0" fill="#ff0000"/>
<line x1="454.04" y1="206.8" x2="454.04" y2="214.0" stroke="#00ff00" stroke-width="0.75"/>
<rect x="453.24" y="207.6" width="1.6" height="5.4" fill="#00ff00"/>
<line x1="456.20" y1="202.3" x2="456.20" y2="218.5" stroke="#ff0000" stroke-width="0.75"/>
<rect x="455.40" y="203.6" width="1.6" height="12.6" fill="#ff0000"/>
<line x1="458.36" y1="199.6" x2="458.36" y2="206.0" stroke="#ff0000" stroke-width="0.75"/>
<rect x="457.56" y="200.3" width="1.6" height="4.2" fill="#ff0000"/>
<line x1="460.52" y1="199.0" x2="460.52" y2="210.0" stroke="#ff0000" stroke-width="0.75"/>
<rect x="459.72" y="201.7" width="1.6" height="6.6" fill="#ff0000"/>
<line x1="462.68" y1="197.0" x2="462.68" y2="213.0" stroke="#00ff00" stroke-width="0.75"/>
<rect x="461.88" y="198.6" width="1.6" height="10.5" fill="#00ff00"/>
<line x1="464.84" y1="206.0" x2="464.84" y2="218.5" stroke="#ff0000" stroke-width="0.75"/>
<rect x="464.04" y="207.4" width="1.6" height="9.6" fill="#ff0000"/>
<line x1="467.00" y1="205.0" x2="467.00" y2="208.0" stroke="#ff0000" stroke-width="0.75"/>
<rect x="466.20" y="205.2" width="1.6" height="2.5" fill="#ff0000"/>
<line x1="469.16" y1="205.0" x2="469.16" y2="208.6" stroke="#00ff00" stroke-width="0.75"/>
<rect x="468.36" y="205.5" width="1.6" height="2.5" fill="#00ff00"/>
<line x1="471.32" y1="206.0" x2="471.32" y2="210.4" stroke="#00ff00" stroke-width="0.75"/>
<rect x="470.52" y="206.4" width="1.6" height="3.3" fill="#00ff00"/>
<line x1="473.48" y1="206.8" x2="473.48" y2="210.4" stroke="#00ff00" stroke-width="0.75"/>
<rect x="472.68" y="207.0" width="1.6" height="3.0" fill="#00ff00"/>
<line x1="475.64" y1="206.8" x2="475.64" y2="211.3" stroke="#ff0000" stroke-width="0.75"/>
<rect x="474.84" y="207.1" width="1.6" height="3.6" fill="#ff0000"/>
<line x1="477.80" y1="207.7" x2="477.80" y2="213.0" stroke="#00ff00" stroke-width="0.75"/>
<rect x="477.00" y="208.0" width="1.6" height="4.7" fill="#00ff00"/>
<line x1="479.96" y1="207.0" x2="479.96" y2="216.0" stroke="#00ff00" stroke-width="0.75"/>
<rect x="479.16" y="208.0" width="1.6" height="7.1" fill="#00ff00"/>
<line x1="482.12" y1="211.0" x2="482.12" y2="219.0" stroke="#00ff00" stroke-width="0.75"/>
<rect x="481.32" y="212.3" width="1.6" height="5.4" fill="#00ff00"/>
<line x1="484.28" y1="214.0" x2="484.28" y2="221.0" stroke="#00ff00" stroke-width="0.75"/>
<rect x="483.48" y="215.4" width="1.6" height="4.3" fill="#00ff00"/>
<line x1="486.44" y1="216.0" x2="486.44" y2="225.0" stroke="#00ff00" stroke-width="0.75"/>
<rect x="485.64" y="217.7" width="1.6" height="5.2" fill="#00ff00"/>
<line x1="488.60" y1="222.0" x2="488.60" y2="234.0" stroke="#00ff00" stroke-width="0.75"/>
<rect x="487.80" y="223.5" width="1.6" height="9.1" fill="#00ff00"/>
<line x1="490.76" y1="231.0" x2="490.76" y2="241.0" stroke="#00ff00" stroke-width="0.75"/>
<rect x="489.96" y="233.5" width="1.6" height="6.7" fill="#00ff00"/>
<line x1="492.92" y1="232.0" x2="492.92" y2="243.0" stroke="#ff0000" stroke-width="0.75"/>
<rect x="492.12" y="234.1" width="1.6" height="6.9" fill="#ff0000"/>
<line x1="495.08" y1="228.0" x2="495.08" y2="235.0" stroke="#ff0000" stroke-width="0.75"/>
<rect x="494.28" y="228.4" width="1.6" height="5.1" fill="#ff0000"/>
<line x1="497.24" y1="225.0" x2="497.24" y2="234.0" stroke="#ff0000" stroke-width="0.75"/>
<rect x="496.44" y="227.1" width="1.6" height="5.4" fill="#ff0000"/>
<line x1="499.40" y1="214.0" x2="499.40" y2="225.0" stroke="#ff0000" stroke-width="0.75"/>
<rect x="498.60" y="216.2" width="1.6" height="6.5" fill="#ff0000"/>
<line x1="501.56" y1="216.0" x2="501.56" y2="226.0" stroke="#00ff00" stroke-width="0.75"/>
<rect x="500.76" y="216.8" width="1.6" height="7.7" fill="#00ff00"/>
<line x1="503.72" y1="214.0" x2="503.72" y2="225.0" stroke="#ff0000" stroke-width="0.75"/>
<rect x="502.92" y="215.7" width="1.6" height="7.0" fill="#ff0000"/>
<line x1="505.88" y1="216.0" x2="505.88" y2="226.0" stroke="#00ff00" stroke-width="0.75"/>
<rect x="505.08" y="218.1" width="1.6" height="5.7" fill="#00ff00"/>
<line x1="508.04" y1="207.0" x2="508.04" y2="225.0" stroke="#ff0000" stroke-width="0.75"/>
<rect x="507.24" y="210.0" width="1.6" height="10.9" fill="#ff0000"/>
<line x1="510.20" y1="188.0" x2="510.20" y2="210.0" stroke="#ff0000" stroke-width="0.75"/>
<rect x="509.40" y="192.1" width="1.6" height="13.7" fill="#ff0000"/>
<line x1="512.36" y1="172.0" x2="512.36" y2="190.0" stroke="#ff0000" stroke-width="0.75"/>
<rect x="511.56" y="173.7" width="1.6" height="15.3" fill="#ff0000"/>
<line x1="514.52" y1="164.0" x2="514.52" y2="182.0" stroke="#ff0000" stroke-width="0.75"/>
<rect x="513.72" y="165.4" width="1.6" height="14.4" fill="#ff0000"/>
<line x1="516.68" y1="146.0" x2="516.68" y2="173.0" stroke="#ff0000" stroke-width="0.75"/>
<rect x="515.88" y="147.9" width="1.6" height="19.2" fill="#ff0000"/>
<line x1="518.84" y1="139.0" x2="518.84" y2="158.0" stroke="#00ff00" stroke-width="0.75"/>
<rect x="518.04" y="142.1" width="1.6" height="12.6" fill="#00ff00"/>
<line x1="521.00" y1="144.0" x2="521.00" y2="161.0" stroke="#ff0000" stroke-width="0.75"/>
<rect x="520.20" y="147.0" width="1.6" height="10.9" fill="#ff0000"/>
<line x1="523.16" y1="142.0" x2="523.16" y2="166.0" stroke="#00ff00" stroke-width="0.75"/>
<rect x="522.36" y="145.5" width="1.6" height="19.2" fill="#00ff00"/>
<line x1="525.32" y1="162.0" x2="525.32" y2="177.0" stroke="#00ff00" stroke-width="0.75"/>
<rect x="524.52" y="165.1" width="1.6" height="8.9" fill="#00ff00"/>
<line x1="527.48" y1="162.0" x2="527.48" y2="172.0" stroke="#ff0000" stroke-width="0.75"/>
<rect x="526.68" y="163.5" width="1.6" height="6.9" fill="#ff0000"/>
<line x1="529.64" y1="162.0" x2="529.64" y2="172.0" stroke="#ff0000" stroke-width="0.75"/>
<rect x="528.84" y="163.8" width="1.6" height="7.5" fill="#ff0000"/>
<line x1="531.80" y1="158.0" x2="531.80" y2="172.0" stroke="#00ff00" stroke-width="0.75"/>
<rect x="531.00" y="160.8" width="1.6" height="9.8" fill="#00ff00"/>
<line x1="533.96" y1="163.0" x2="533.96" y2="173.0" stroke="#00ff00" stroke-width="0.75"/>
<rect x="533.16" y="163.6" width="1.6" height="8.3" fill="#00ff00"/>
<line x1="536.12" y1="159.0" x2="536.12" y2="171.0" stroke="#ff0000" stroke-width="0.75"/>
<rect x="535.32" y="161.4" width="1.6" height="8.6" fill="#ff0000"/>
<line x1="538.28" y1="155.0" x2="538.28" y2="168.0" stroke="#00ff00" stroke-width="0.75"/>
<rect x="537.48" y="157.6" width="1.6" height="7.2" fill="#00ff00"/>
<line x1="540.44" y1="164.0" x2="540.44" y2="176.0" stroke="#00ff00" stroke-width="0.75"/>
<rect x="539.64" y="165.8" width="1.6" height="8.7" fill="#00ff00"/>
<line x1="542.60" y1="174.0" x2="542.60" y2="185.0" stroke="#00ff00" stroke-width="0.75"/>
<rect x="541.80" y="175.6" width="1.6" height="7.3" fill="#00ff00"/>
<line x1="544.76" y1="180.0" x2="544.76" y2="192.0" stroke="#00ff00" stroke-width="0.75"/>
<rect x="543.96" y="182.4" width="1.6" height="7.5" fill="#00ff00"/>
<line x1="546.92" y1="186.0" x2="546.92" y2="201.0" stroke="#00ff00" stroke-width="0.75"/>
<rect x="546.12" y="188.7" width="1.6" height="11.3" fill="#00ff00"/>
<line x1="549.08" y1="194.0" x2="549.08" y2="209.0" stroke="#00ff00" stroke-width="0.75"/>
<rect x="548.28" y="195.2" width="1.6" height="12.3" fill="#00ff00"/>
<line x1="551.24" y1="207.0" x2="551.24" y2="221.0" stroke="#00ff00" stroke-width="0.75"/>
<rect x="550.44" y="209.8" width="1.6" height="9.7" fill="#00ff00"/>
<line x1="553.40" y1="214.0" x2="553.40" y2="224.0" stroke="#ff0000" stroke-width="0.75"/>
<rect x="552.60" y="215.6" width="1.6" height="7.8" fill="#ff0000"/>
<line x1="555.56" y1="214.0" x2="555.56" y2="232.0" stroke="#00ff00" stroke-width="0.75"/>
<rect x="554.76" y="215.1" width="1.6" height="15.0" fill="#00ff00"/>
<line x1="557.72" y1="214.0" x2="557.72" y2="225.0" stroke="#ff0000" stroke-width="0.75"/>
<rect x="556.92" y="216.0" width="1.6" height="6.9" fill="#ff0000"/>
<line x1="559.88" y1="205.0" x2="559.88" y2="218.0" stroke="#ff0000" stroke-width="0.75"/>
<rect x="559.08" y="207.4" width="1.6" height="9.2" fill="#ff0000"/>
<line x1="562.04" y1="194.0" x2="562.04" y2="207.0" stroke="#ff0000" stroke-width="0.75"/>
<rect x="561.24" y="196.0" width="1.6" height="9.1" fill="#ff0000"/>
<line x1="564.20" y1="185.0" x2="564.20" y2="200.0" stroke="#ff0000" stroke-width="0.75"/>
<rect x="563.40" y="187.1" width="1.6" height="11.7" fill="#ff0000"/>
<line x1="566.36" y1="170.0" x2="566.36" y2="182.0" stroke="#ff0000" stroke-width="0.75"/>
<rect x="565.56" y="172.7" width="1.6" height="8.2" fill="#ff0000"/>
<line x1="568.52" y1="152.0" x2="568.52" y2="176.0" stroke="#ff0000" stroke-width="0.75"/>
<rect x="567.72" y="157.9" width="1.6" height="12.4" fill="#ff0000"/>
<line x1="570.68" y1="124.0" x2="570.68" y2="156.0" stroke="#ff0000" stroke-width="0.75"/>
<rect x="569.88" y="125.7" width="1.6" height="25.8" fill="#ff0000"/>
<line x1="572.84" y1="116.0" x2="572.84" y2="133.0" stroke="#00ff00" stroke-width="0.75"/>
<rect x="572.04" y="119.6" width="1.6" height="9.2" fill="#00ff00"/>
<line x1="575.00" y1="111.0" x2="575.00" y2="125.0" stroke="#ff0000" stroke-width="0.75"/>
<rect x="574.20" y="113.0" width="1.6" height="10.6" fill="#ff0000"/>
<line x1="577.16" y1="113.0" x2="577.16" y2="122.0" stroke="#ff0000" stroke-width="0.75"/>
<rect x="576.36" y="113.8" width="1.6" height="6.0" fill="#ff0000"/>
<line x1="579.32" y1="96.0" x2="579.32" y2="120.0" stroke="#ff0000" stroke-width="0.75"/>
<rect x="578.52" y="98.2" width="1.6" height="17.8" fill="#ff0000"/>
<line x1="581.48" y1="113.0" x2="581.48" y2="127.0" stroke="#00ff00" stroke-width="0.75"/>
<rect x="580.68" y="114.1" width="1.6" height="10.7" fill="#00ff00"/>
<line x1="583.64" y1="118.0" x2="583.64" y2="131.0" stroke="#00ff00" stroke-width="0.75"/>
<rect x="582.84" y="121.1" width="1.6" height="8.9" fill="#00ff00"/>
<line x1="585.80" y1="120.0" x2="585.80" y2="133.0" stroke="#00ff00" stroke-width="0.75"/>
<rect x="585.00" y="122.8" width="1.6" height="8.2" fill="#00ff00"/>
<line x1="587.96" y1="120.0" x2="587.96" y2="133.0" stroke="#ff0000" stroke-width="0.75"/>
<rect x="587.16" y="123.0" width="1.6" height="7.6" fill="#ff0000"/>
<line x1="590.12" y1="115.0" x2="590.12" y2="127.0" stroke="#ff0000" stroke-width="0.75"/>
<rect x="589.32" y="116.2" width="1.6" height="8.1" fill="#ff0000"/>
<line x1="592.28" y1="100.0" x2="592.28" y2="118.0" stroke="#ff0000" stroke-width="0.75"/>
<rect x="591.48" y="102.7" width="1.6" height="14.4" fill="#ff0000"/>
<line x1="594.44" y1="93.0" x2="594.44" y2="107.0" stroke="#ff0000" stroke-width="0.75"/>
<rect x="593.64" y="93.7" width="1.6" height="11.2" fill="#ff0000"/>
<line x1="596.60" y1="89.0" x2="596.60" y2="102.0" stroke="#ff0000" stroke-width="0.75"/>
<rect x="595.80" y="90.8" width="1.6" height="9.7" fill="#ff0000"/>
<line x1="598.76" y1="83.8" x2="598.76" y2="95.0" stroke="#ff0000" stroke-width="0.75"/>
<rect x="597.96" y="84.7" width="1.6" height="9.0" fill="#ff0000"/>
<line x1="600.92" y1="82.0" x2="600.92" y2="95.0" stroke="#00ff00" stroke-width="0.75"/>
<rect x="600.12" y="83.5" width="1.6" height="8.7" fill="#00ff00"/>
<line x1="603.08" y1="65.4" x2="603.08" y2="84.6" stroke="#ff0000" stroke-width="0.75"/>
<rect x="602.28" y="66.4" width="1.6" height="14.4" fill="#ff0000"/>
<line x1="605.24" y1="65.4" x2="605.24" y2="81.4" stroke="#00ff00" stroke-width="0.75"/>
<rect x="604.44" y="68.9" width="1.6" height="11.3" fill="#00ff00"/>
<line x1="607.40" y1="70.2" x2="607.40" y2="80.6" stroke="#ff0000" stroke-width="0.75"/>
<rect x="606.60" y="72.6" width="1.6" height="6.0" fill="#ff0000"/>
<line x1="609.56" y1="71.0" x2="609.56" y2="79.8" stroke="#00ff00" stroke-width="0.75"/>
<rect x="608.76" y="73.0" width="1.6" height="5.8" fill="#00ff00"/>
<line x1="611.72" y1="66.2" x2="611.72" y2="75.0" stroke="#ff0000" stroke-width="0.75"/>
<rect x="610.92" y="67.3" width="1.6" height="6.6" fill="#ff0000"/>
<line x1="613.88" y1="71.0" x2="613.88" y2="75.0" stroke="#00ff00" stroke-width="0.75"/>
<rect x="613.08" y="72.0" width="1.6" height="2.3" fill="#00ff00"/>
<line x1="616.04" y1="75.8" x2="616.04" y2="79.0" stroke="#00ff00" stroke-width="0.75"/>
<rect x="615.24" y="76.2" width="1.6" height="2.4" fill="#00ff00"/>
<line x1="618.20" y1="75.0" x2="618.20" y2="80.6" stroke="#ff0000" stroke-width="0.75"/>
<rect x="617.40" y="75.6" width="1.6" height="4.7" fill="#ff0000"/>
<line x1="620.36" y1="74.2" x2="620.36" y2="81.4" stroke="#ff0000" stroke-width="0.75"/>
<rect x="619.56" y="74.7" width="1.6" height="5.1" fill="#ff0000"/>
<line x1="622.52" y1="67.0" x2="622.52" y2="77.4" stroke="#ff0000" stroke-width="0.75"/>
<rect x="621.72" y="68.1" width="1.6" height="6.8" fill="#ff0000"/>
<line x1="624.68" y1="72.6" x2="624.68" y2="81.4" stroke="#00ff00" stroke-width="0.75"/>
<rect x="623.88" y="73.5" width="1.6" height="7.0" fill="#00ff00"/>
<line x1="626.84" y1="75.8" x2="626.84" y2="85.4" stroke="#ff0000" stroke-width="0.75"/>
<rect x="626.04" y="77.3" width="1.6" height="7.3" fill="#ff0000"/>
<line x1="629.00" y1="75.0" x2="629.00" y2="79.0" stroke="#ff0000" stroke-width="0.75"/>
<rect x="628.20" y="75.5" width="1.6" height="2.5" fill="#ff0000"/>
<line x1="631.16" y1="70.2" x2="631.16" y2="75.8" stroke="#ff0000" stroke-width="0.75"/>
<rect x="630.36" y="71.5" width="1.6" height="3.1" fill="#ff0000"/>
<line x1="633.32" y1="65.4" x2="633.32" y2="89.4" stroke="#00ff00" stroke-width="0.75"/>
<rect x="632.52" y="71.0" width="1.6" height="13.0" fill="#00ff00"/>
<line x1="635.48" y1="73.4" x2="635.48" y2="81.4" stroke="#00ff00" stroke-width="0.75"/>
<rect x="634.68" y="75.3" width="1.6" height="4.8" fill="#00ff00"/>
<line x1="637.64" y1="77.4" x2="637.64" y2="88.0" stroke="#00ff00" stroke-width="0.75"/>
<rect x="636.84" y="79.5" width="1.6" height="7.9" fill="#00ff00"/>
<line x1="639.80" y1="83.0" x2="639.80" y2="95.0" stroke="#00ff00" stroke-width="0.75"/>
<rect x="639.00" y="85.4" width="1.6" height="8.0" fill="#00ff00"/>
<line x1="641.96" y1="84.0" x2="641.96" y2="90.0" stroke="#ff0000" stroke-width="0.75"/>
<rect x="641.16" y="85.2" width="1.6" height="3.7" fill="#ff0000"/>
<line x1="644.12" y1="84.0" x2="644.12" y2="91.0" stroke="#00ff00" stroke-width="0.75"/>
<rect x="643.32" y="84.8" width="1.6" height="5.8" fill="#00ff00"/>
<line x1="646.28" y1="80.0" x2="646.28" y2="91.0" stroke="#ff0000" stroke-width="0.75"/>
<rect x="645.48" y="82.6" width="1.6" height="7.6" fill="#ff0000"/>
<line x1="648.44" y1="77.0" x2="648.44" y2="86.0" stroke="#ff0000" stroke-width="0.75"/>
<rect x="647.64" y="78.3" width="1.6" height="6.6" fill="#ff0000"/>
<line x1="650.60" y1="74.0" x2="650.60" y2="83.0" stroke="#00ff00" stroke-width="0.75"/>
<rect x="649.80" y="75.0" width="1.6" height="6.2" fill="#00ff00"/>
<line x1="652.76" y1="68.0" x2="652.76" y2="82.0" stroke="#ff0000" stroke-width="0.75"/>
<rect x="651.96" y="71.4" width="1.6" height="9.1" fill="#ff0000"/>
<line x1="654.92" y1="67.0" x2="654.92" y2="76.0" stroke="#00ff00" stroke-width="0.75"/>
<rect x="654.12" y="68.6" width="1.6" height="6.4" fill="#00ff00"/>
<line x1="657.08" y1="49.0" x2="657.08" y2="80.0" stroke="#ff0000" stroke-width="0.75"/>
<rect x="656.28" y="54.0" width="1.6" height="22.0" fill="#ff0000"/>
<line x1="659.24" y1="48.0" x2="659.24" y2="59.0" stroke="#00ff00" stroke-width="0.75"/>
<rect x="658.44" y="48.9" width="1.6" height="9.2" fill="#00ff00"/>
<line x1="661.40" y1="44.0" x2="661.40" y2="52.0" stroke="#ff0000" stroke-width="0.75"/>
<rect x="660.60" y="44.7" width="1.6" height="5.4" fill="#ff0000"/>
<line x1="663.56" y1="39.0" x2="663.56" y2="47.0" stroke="#ff0000" stroke-width="0.75"/>
<rect x="662.76" y="40.2" width="1.6" height="6.1" fill="#ff0000"/>
<line x1="665.72" y1="24.0" x2="665.72" y2="41.0" stroke="#ff0000" stroke-width="0.75"/>
<rect x="664.92" y="27.9" width="1.6" height="8.8" fill="#ff0000"/>
<line x1="667.88" y1="22.3" x2="667.88" y2="40.0" stroke="#00ff00" stroke-width="0.75"/>
<rect x="667.08" y="24.8" width="1.6" height="13.8" fill="#00ff00"/>
<polyline points="3.0,326.0 6.0,331.0 10.0,332.0 14.0,328.0 18.0,322.0 22.0,317.0 25.6,313.0 28.0,316.0 31.0,320.0 36.0,322.0 42.0,324.0 48.0,326.0 52.0,328.0 54.0,327.0 57.0,322.0 60.0,314.0 64.0,311.0 68.0,313.0 72.0,320.0 76.0,328.0 80.0,320.0 83.0,315.0 87.0,315.0 90.0,316.0 93.0,306.0 95.0,287.0 98.0,276.0 102.0,269.0 105.0,269.0 110.0,276.0 114.0,283.0 118.0,288.0 122.0,286.5 126.0,279.0 130.0,273.5 134.0,271.8 138.0,274.0 142.0,277.0 146.0,278.2 149.3,279.2 151.0,274.0 153.5,261.0 156.5,253.0 159.0,252.0 162.0,255.0 165.0,265.0 168.0,283.0 170.2,301.0 171.6,309.0 173.5,303.0 175.5,295.0 178.0,290.4 180.0,288.4 183.0,289.5 185.5,295.0 188.0,305.0 190.3,316.0 192.0,328.0 194.0,337.0 196.0,334.0 198.5,329.0 202.0,323.0 206.0,317.0 210.0,313.5 214.0,312.5 217.0,310.0 219.0,308.0 221.0,312.0 225.0,318.0 228.0,322.0 232.0,323.0 236.0,322.0 240.0,323.0 244.0,325.0 248.0,325.0 252.0,323.0 256.0,320.3 257.7,323.5 259.3,321.5 261.7,308.3 265.0,292.4 268.0,281.0 271.3,271.6 274.0,267.3 276.3,268.7 278.7,271.7 281.0,277.0 283.5,282.5 285.9,286.0 288.3,284.3 291.3,282.5 294.9,282.0 298.0,284.0 302.0,285.0 306.0,284.0 309.0,280.0 312.0,277.0 315.0,280.0 318.0,284.0 322.0,287.0 325.0,290.0 327.0,291.0 329.0,284.0 331.0,281.0 334.0,282.5 337.0,281.5 340.0,277.0 343.0,274.5 347.0,273.0 350.0,271.0 352.0,265.0 354.0,259.0 357.0,257.0 360.0,255.0 362.0,242.0 364.0,225.0 365.4,193.0 368.0,190.0 371.7,188.0 374.5,182.6 378.0,181.0 383.5,181.0 385.6,184.0 386.6,198.0 387.4,210.0 390.0,206.0 393.3,200.0 396.0,196.5 399.0,186.0 401.0,182.0 403.0,181.0 405.5,184.5 409.0,181.0 412.7,189.6 416.0,193.0 421.0,192.0 424.0,191.0 428.0,189.4 432.6,192.5 438.0,193.4 442.5,196.0 445.0,195.0 447.0,192.5 451.4,193.4 456.0,193.4 460.4,194.0 465.0,195.0 467.6,197.0 469.4,199.0 474.0,198.7 480.0,199.5 483.0,200.0 488.0,193.4 494.0,189.0 498.5,195.0 503.0,199.0 505.0,202.0 508.3,203.0 510.0,200.0 512.0,190.0 513.5,172.0 515.0,156.0 517.0,136.0 519.0,116.0 521.0,104.0 524.0,96.0 526.0,97.0 528.0,102.0 530.0,114.0 532.0,126.0 534.0,133.0 537.0,135.0 540.0,138.0 543.0,144.0 545.0,150.0 547.0,142.0 549.0,132.0 552.0,124.0 555.0,123.0 558.0,128.0 561.0,142.0 564.0,162.0 565.5,170.0 568.0,165.0 570.0,150.0 571.6,125.0 573.8,96.0 577.0,69.6 580.4,57.5 582.6,55.0 584.8,58.6 587.0,67.4 589.0,78.0 591.4,93.7 592.5,99.0 594.7,96.0 597.0,80.5 600.0,60.8 603.5,47.6 606.8,40.0 610.0,38.8 613.4,45.4 616.6,52.0 619.0,55.0 623.2,61.9 627.4,65.4 630.2,66.8 633.0,66.0 635.8,64.0 640.7,61.2 642.8,60.0 645.6,62.6 648.4,63.5 651.0,65.0 653.2,67.0 654.4,65.0 656.2,58.0 658.0,50.8 659.8,43.6 661.0,38.0 662.3,28.7 666.0,14.4 668.3,3.6" fill="none" stroke="#4848fa" stroke-width="0.9" stroke-linejoin="round"/>
<polyline points="3.0,350.0 6.0,353.0 10.0,354.0 14.0,351.0 18.0,348.0 22.0,345.0 26.0,341.0 30.0,337.0 34.0,334.0 40.0,333.0 46.0,333.0 52.0,334.0 56.0,336.0 60.0,338.0 66.0,342.0 72.0,346.0 76.0,348.0 80.0,345.0 86.0,338.0 92.0,328.0 98.0,318.0 104.0,310.0 110.0,304.0 114.0,302.0 119.0,301.0 124.0,298.0 130.0,295.0 136.0,293.0 140.0,291.4 143.6,289.8 147.0,290.0 150.8,293.0 155.6,300.0 160.4,308.5 165.0,316.0 170.0,324.0 174.7,331.5 179.5,338.5 182.0,343.0 186.0,352.0 189.0,358.5 192.0,362.0 196.0,363.0 200.0,360.5 204.0,356.0 208.0,350.0 212.0,344.0 216.0,339.0 220.0,335.0 224.0,333.0 228.0,332.0 232.0,332.5 236.0,334.5 242.0,335.0 248.0,334.7 254.0,333.0 258.5,330.0 263.3,325.0 268.0,318.0 273.0,310.7 278.0,304.0 282.0,300.0 286.0,297.0 290.0,295.0 296.0,294.5 302.0,297.0 306.0,299.0 310.0,301.0 314.0,302.0 318.0,303.0 322.0,304.0 326.0,303.0 330.0,301.0 334.0,299.0 338.0,295.5 342.0,292.0 346.0,289.0 350.0,286.5 354.0,283.5 358.0,280.0 361.0,275.0 364.0,268.0 367.0,262.0 370.0,258.5 372.0,258.5 374.0,262.0 377.0,262.5 381.0,263.0 384.0,262.0 386.0,264.0 387.5,266.5 389.5,265.5 391.5,265.0 393.0,262.0 395.0,255.0 398.0,245.0 401.5,233.0 406.0,223.5 410.5,216.3 415.0,212.2 417.7,211.0 420.4,212.2 424.0,213.6 428.0,211.8 430.8,213.0 436.0,213.0 441.6,211.3 447.0,210.4 452.0,209.5 457.7,207.7 463.0,206.8 468.5,206.8 474.0,207.0 480.0,208.5 484.0,211.0 488.0,214.0 494.0,219.0 498.5,223.0 503.0,225.0 507.4,225.0 510.0,222.5 513.8,214.0 516.0,205.0 518.5,198.0 522.5,188.0 525.0,182.0 528.0,175.0 532.0,167.0 535.0,163.0 538.0,162.0 541.0,164.0 544.0,169.0 548.0,176.0 550.0,182.0 555.0,187.0 559.0,196.0 562.0,201.0 564.4,203.3 567.0,203.0 569.5,199.0 573.2,188.0 577.6,172.5 582.0,155.0 586.4,141.8 590.8,130.8 595.0,124.0 600.0,118.0 603.0,110.0 606.0,101.0 609.5,93.0 613.0,86.0 616.0,80.0 618.5,77.0 622.7,74.0 628.0,73.0 632.4,74.0 637.0,79.0 642.0,81.4 647.2,82.0 650.8,83.7 654.4,83.7 658.0,82.0 661.6,76.0 665.1,70.0 668.1,62.8 670.5,57.4" fill="none" stroke="#4848fa" stroke-width="0.9" stroke-linejoin="round"/>
<polyline points="3.0,374.0 8.0,376.0 13.0,376.0 16.0,374.0 20.0,371.0 25.0,370.0 28.0,360.0 30.0,350.0 33.0,346.0 37.0,344.0 42.0,342.0 48.0,340.0 52.0,340.0 55.0,342.0 58.0,348.0 60.0,356.0 64.0,372.0 68.0,376.0 74.0,374.0 76.0,371.0 80.0,370.0 86.0,361.0 88.0,358.0 90.0,357.0 92.0,359.0 95.0,361.0 98.0,363.5 100.0,362.0 102.0,357.0 104.0,352.0 106.0,348.0 108.7,340.0 111.0,329.0 114.7,318.5 118.0,316.5 120.0,316.0 124.0,317.0 130.0,318.0 134.0,317.0 138.0,312.0 141.0,306.0 144.0,302.0 147.0,301.0 149.0,303.0 150.0,310.0 151.5,318.0 153.0,328.0 154.5,339.0 157.0,353.8 159.0,361.4 161.8,365.6 164.6,364.0 167.4,359.0 170.0,351.0 171.5,347.0 173.0,355.0 174.3,369.0 176.0,374.8 178.4,384.4 180.8,392.4 183.2,400.4 185.0,406.0 188.0,408.0 190.4,406.0 191.2,400.4 192.4,392.4 193.6,388.8 195.2,390.0 197.6,392.4 200.8,392.8 203.6,395.2 206.0,393.2 208.0,388.4 209.2,380.4 211.2,374.8 213.6,370.0 216.0,367.0 219.0,362.0 221.0,354.0 223.0,347.0 226.0,344.0 230.0,342.0 233.0,340.5 236.0,344.0 242.0,346.0 248.0,346.0 254.0,345.0 257.0,340.0 259.0,339.0 261.0,344.0 264.0,350.0 267.0,355.0 270.0,358.0 273.0,356.0 276.0,346.0 279.0,332.0 282.0,318.0 285.0,308.0 288.0,305.0 292.0,305.0 296.0,306.0 298.0,305.0 302.0,304.0 305.0,304.0 308.0,308.0 310.0,314.0 312.0,319.0 316.0,318.0 320.0,317.0 324.0,316.0 327.0,318.0 329.0,322.0 331.0,319.0 334.0,316.5 338.0,312.5 342.0,310.0 346.0,307.0 349.0,305.5 351.0,308.0 353.0,312.0 355.0,310.0 358.9,303.0 361.5,299.4 364.0,312.0 365.4,335.7 368.0,330.5 370.6,328.0 373.2,338.3 375.8,342.0 381.0,344.8 385.0,342.0 387.5,325.3 390.0,322.7 392.7,324.0 395.3,312.3 396.6,302.0 399.0,293.0 401.7,283.0 405.6,270.0 409.5,255.0 412.0,245.0 414.0,237.0 415.9,231.5 417.7,228.0 419.0,230.7 420.4,233.3 424.0,234.2 428.0,233.0 434.4,233.8 438.9,233.8 441.6,227.5 445.0,226.6 450.5,227.5 456.0,225.7 460.4,222.0 463.0,217.6 466.7,216.7 472.0,215.5 475.0,215.2 478.9,216.4 481.5,217.5 484.1,221.0 486.7,226.2 489.3,231.4 491.2,239.0 492.5,244.4 493.8,249.5 496.4,252.8 499.7,252.0 503.6,250.2 507.5,249.5 510.0,250.2 512.0,254.7 514.0,260.0 517.0,269.0 520.4,276.6 522.6,275.5 526.0,262.0 529.0,236.0 531.4,209.6 533.6,194.0 537.0,188.7 540.0,187.6 542.4,190.0 544.6,198.6 548.0,214.0 550.0,225.0 552.3,236.0 554.5,253.5 557.7,261.0 561.0,253.5 563.0,244.7 566.0,240.0 569.6,254.0 572.8,270.0 575.3,276.5 577.6,270.0 580.8,248.0 584.0,216.0 587.0,177.5 590.4,149.0 592.0,144.0 595.0,145.6 598.3,152.0 601.5,156.7 604.7,158.3 608.0,152.0 610.5,140.0 613.0,128.0 615.5,112.0 618.5,95.0 622.7,88.0 627.0,84.8 632.5,84.2 635.5,86.0 639.6,93.4 644.3,98.2 649.0,99.4 654.0,100.6 656.3,105.4 658.7,112.6 661.0,116.0 664.7,115.0 668.3,111.4 670.0,110.0" fill="none" stroke="#4848fa" stroke-width="0.9" stroke-linejoin="round"/>
</g>
<g clip-path="url(#cs)">
<line x1="3" y1="422.3" x2="839" y2="422.3" stroke="#c6c6c6" stroke-width="1" stroke-dasharray="1.7,1.55"/>
<line x1="3" y1="471.8" x2="839" y2="471.8" stroke="#c6c6c6" stroke-width="1" stroke-dasharray="1.7,1.55"/>
<polyline points="2.6,437.1 4.8,443.2 6.9,446.4 9.1,448.2 11.2,442.1 13.4,430.6 15.6,422.1 17.7,418.5 19.9,420.0 22.0,421.7 24.2,422.7 26.4,423.9 28.5,428.0 30.7,434.7 32.8,442.9 35.0,450.9 37.2,458.6 39.3,466.2 41.5,469.1 43.6,464.5 45.8,451.3 48.0,440.1 50.1,433.0 52.3,430.5 54.4,431.2 56.6,436.3 58.8,448.2 60.9,460.1 63.1,467.8 65.2,466.5 67.4,458.8 69.6,447.9 71.7,440.0 73.9,434.0 76.0,428.8 78.2,421.6 80.4,415.8 82.5,413.5 84.7,415.5 86.8,418.5 89.0,418.8 91.2,416.8 93.3,413.3 95.5,413.5 97.6,416.5 99.8,421.9 102.0,427.2 104.1,434.8 106.3,444.0 108.4,447.7 110.6,443.6 112.8,438.2 114.9,439.0 117.1,444.4 119.2,445.2 121.4,442.7 123.6,438.7 125.7,436.3 127.9,434.0 130.0,432.6 132.2,434.1 134.4,441.3 136.5,453.1 138.7,460.1 140.8,458.7 143.0,449.0 145.2,442.5 147.3,440.9 149.5,447.8 151.6,458.9 153.8,469.1 156.0,473.5 158.1,470.7 160.3,463.5 162.4,453.8 164.6,444.0 166.8,439.3 168.9,441.0 171.1,448.5 173.2,457.3 175.4,465.5 177.6,470.2 179.7,471.4 181.9,469.6 184.0,467.2 186.2,462.3 188.4,454.5 190.5,442.2 192.7,428.1 194.8,418.4 197.0,415.4 199.2,420.9 201.3,428.0 203.5,435.2 205.6,435.4 207.8,430.6 210.0,422.0 212.1,417.0 214.3,415.2 216.4,416.6 218.6,421.7 220.8,430.8 222.9,439.8 225.1,446.3 227.2,450.1 229.4,455.0 231.6,459.2 233.7,464.8 235.9,461.7 238.0,451.4 240.2,432.4 242.4,421.5 244.5,418.7 246.7,421.6 248.8,422.8 251.0,423.0 253.2,423.7 255.3,426.1 257.5,427.5 259.6,427.3 261.8,424.5 264.0,421.4 266.1,418.6 268.3,417.0 270.4,417.1 272.6,420.6 274.8,427.7 276.9,438.6 279.1,446.5 281.2,448.0 283.4,443.0 285.6,436.7 287.7,432.3 289.9,428.8 292.0,427.9 294.2,431.6 296.4,440.5 298.5,451.2 300.7,461.3 302.8,465.8 305.0,467.3 307.2,467.4 309.3,470.9 311.5,470.8 313.6,466.2 315.8,456.2 318.0,447.7 320.1,440.9 322.3,436.8 324.4,434.2 326.6,431.3 328.8,427.2 330.9,425.6 333.1,429.6 335.2,438.2 337.4,443.1 339.6,440.1 341.7,431.7 343.9,423.2 346.0,420.4 348.2,421.3 350.4,426.0 352.5,431.5 354.7,436.9 356.8,441.2 359.0,444.1 361.2,442.6 363.3,436.4 365.5,429.8 367.6,427.1 369.8,431.2 372.0,437.6 374.1,447.0 376.3,456.1 378.4,460.3 380.6,456.6 382.8,445.8 384.9,432.7 387.1,421.8 389.2,416.7 391.4,415.7 393.6,416.3 395.7,416.2 397.9,416.4 400.0,418.2 402.2,421.2 404.4,424.8 406.5,426.7 408.7,425.2 410.8,424.8 413.0,427.4 415.2,434.8 417.3,443.6 419.5,451.8 421.6,456.5 423.8,453.3 426.0,443.4 428.1,431.7 430.3,427.5 432.4,432.7 434.6,446.6 436.8,459.2 438.9,461.6 441.1,452.2 443.2,436.8 445.4,427.9 447.6,426.8 449.7,434.4 451.9,444.4 454.0,454.1 456.2,456.4 458.4,452.4 460.5,446.1 462.7,444.0 464.8,445.9 467.0,445.8 469.2,443.5 471.3,439.5 473.5,437.9 475.6,438.7 477.8,447.8 480.0,458.8 482.1,469.5 484.3,474.0 486.4,477.2 488.6,480.1 490.8,481.7 492.9,480.9 495.1,474.9 497.2,461.7 499.4,444.2 501.6,429.4 503.7,422.2 505.9,423.5 508.0,427.9 510.2,430.2 512.4,426.7 514.5,420.7 516.7,416.1 518.8,414.7 521.0,415.5 523.2,419.3 525.3,427.3 527.5,440.3 529.6,454.7 531.8,464.0 534.0,465.4 536.1,460.5 538.3,453.5 540.4,450.9 542.6,455.1 544.8,465.3 546.9,474.1 549.1,479.1 551.2,479.8 553.4,477.5 555.6,472.1 557.7,464.2 559.9,452.7 562.0,439.4 564.2,426.1 566.4,418.5 568.5,415.3 570.7,414.8 572.8,414.0 575.0,413.8 577.2,414.5 579.3,415.5 581.5,418.1 583.6,426.3 585.8,438.4 588.0,450.9 590.1,456.1 592.3,449.8 594.4,435.9 596.6,422.2 598.8,415.1 600.9,413.1 603.1,412.2 605.2,414.1 607.4,417.3 609.6,423.0 611.7,427.9 613.9,433.7 616.0,440.4 618.2,449.0 620.4,454.9 622.5,453.8 624.7,450.3 626.8,448.5 629.0,450.3 631.2,448.7 633.3,447.0 635.5,447.1 637.6,451.7 639.8,459.3 642.0,466.6 644.1,470.8 646.3,468.3 648.4,461.4 650.6,451.8 652.8,441.8 654.9,434.2 657.1,428.1 659.2,424.5 661.4,420.6 663.6,418.0 665.7,415.4 667.9,416.1" fill="none" stroke="#ff4040" stroke-width="1.15" stroke-dasharray="1.2,1.9"/>
<polyline points="2.0,432.5 4.0,448.0 7.0,453.0 10.0,438.0 14.0,415.0 17.0,419.0 21.0,424.6 22.6,420.7 26.5,426.6 31.4,446.0 39.3,473.7 42.0,466.0 46.0,432.5 49.0,434.4 52.0,425.6 56.0,442.0 60.0,471.8 63.0,470.0 69.7,436.4 72.7,434.4 78.6,411.8 81.5,412.8 86.4,422.6 89.4,414.8 93.3,410.9 96.3,418.7 102.0,432.5 106.0,456.0 111.0,430.5 114.0,444.3 117.0,449.0 119.8,439.3 123.8,436.4 128.7,430.5 131.6,434.4 136.5,467.8 139.5,456.0 143.4,436.4 147.3,444.3 152.3,477.7 157.2,469.8 164.0,434.4 167.0,440.3 169.0,448.0 171.9,462.0 175.8,473.7 179.7,469.8 184.6,463.9 188.6,442.3 192.5,412.8 196.4,415.8 199.4,430.5 203.3,441.3 206.3,426.6 210.2,413.8 214.0,415.8 217.0,419.7 221.0,445.2 224.0,446.2 228.9,460.0 231.8,462.0 233.8,472.7 236.7,442.3 240.0,414.8 242.6,418.7 245.5,424.6 249.5,421.7 252.4,424.6 255.4,429.5 259.3,425.6 263.2,418.7 267.2,415.8 270.0,416.8 274.0,432.5 277.0,452.0 279.0,451.0 281.9,439.3 285.8,431.5 289.8,425.6 292.7,430.5 296.6,454.0 300.6,469.8 303.5,464.9 306.5,467.8 309.4,476.7 312.3,462.0 316.3,444.3 320.2,435.4 324.1,433.5 328.5,421.7 331.0,428.0 333.0,438.4 335.9,451.0 339.8,428.5 343.8,416.8 346.7,422.6 349.6,428.5 353.6,441.3 356.5,443.3 359.5,447.2 363.4,424.6 367.3,428.5 371.3,442.3 375.2,463.9 377.2,464.9 380.1,450.2 383.0,430.5 386.0,412.8 389.0,416.8 392.9,415.8 397.8,416.8 401.7,424.6 405.6,429.5 408.6,420.7 411.5,428.5 416.4,448.2 418.4,459.0 421.4,459.0 424.3,440.3 427.2,420.7 429.2,424.6 432.2,442.3 435.1,468.8 437.0,468.8 440.0,442.3 443.6,420.7 446.9,428.5 449.8,446.2 453.8,462.9 456.7,450.2 458.7,441.3 461.6,444.3 464.6,449.2 467.5,441.3 471.5,436.4 475.4,439.3 478.3,468.8 481.3,472.7 487.2,481.6 490.1,483.5 493.0,477.7 495.0,465.4 497.0,444.6 499.2,425.9 502.3,418.6 504.4,421.7 506.4,432.1 508.5,434.2 510.6,425.9 512.7,417.6 516.8,413.4 520.0,415.5 523.0,423.8 526.2,444.6 528.3,465.4 530.4,469.6 533.5,463.3 535.6,455.0 538.3,445.7 540.8,455.0 543.9,473.7 546.0,480.0 550.1,481.0 553.3,473.7 557.4,457.1 560.5,434.2 563.7,414.4 566.8,416.5 571.0,413.0 575.0,414.4 579.3,416.5 581.4,421.7 583.4,438.4 586.5,457.1 588.6,461.3 590.7,453.0 592.8,428.0 594.9,415.5 598.0,413.0 601.0,412.4 603.2,411.3 605.3,418.6 608.4,423.8 610.5,432.1 612.6,434.2 615.7,446.7 618.8,462.3 620.9,455.0 623.0,442.5 625.0,449.8 628.2,453.0 631.3,443.6 634.4,447.7 637.5,457.1 640.7,473.7 643.8,471.7 646.9,459.2 650.0,444.6 653.1,430.0 655.2,429.0 657.3,422.8 660.4,419.6 662.5,415.5 664.6,415.5 666.0,412.4 668.2,420.9" fill="none" stroke="#4cc6c6" stroke-width="0.78" stroke-linejoin="round"/>
</g>
<rect x="2" y="2" width="838" height="1" fill="#8080e8"/>
<rect x="2" y="2" width="1" height="487" fill="#8080e8"/>
<rect x="839" y="2" width="1" height="487" fill="#7a7ae0"/>
<rect x="2" y="488" width="838" height="1" fill="#7a7ae0"/>
<rect x="3" y="403" width="836" height="1" fill="#9a9ae8"/>
<rect x="3" y="404" width="836" height="1" fill="#5c5cdc"/>
<rect x="3" y="405" width="836" height="1" fill="#a4a4ec"/>
<rect x="840" y="9.7" width="1.5" height="1" fill="#4a4ae0"/>
<text class="ax" x="842.9" y="11.8" textLength="17.4" lengthAdjust="spacingAndGlyphs">1930.95</text>
<rect x="840" y="27.5" width="1.5" height="1" fill="#4a4ae0"/>
<text class="ax" x="842.9" y="29.6" textLength="17.4" lengthAdjust="spacingAndGlyphs">1928.00</text>
<rect x="840" y="45.4" width="1.5" height="1" fill="#4a4ae0"/>
<text class="ax" x="842.9" y="47.5" textLength="17.4" lengthAdjust="spacingAndGlyphs">1925.00</text>
<rect x="840" y="63.2" width="1.5" height="1" fill="#4a4ae0"/>
<text class="ax" x="842.9" y="65.3" textLength="17.4" lengthAdjust="spacingAndGlyphs">1922.05</text>
<rect x="840" y="81.0" width="1.5" height="1" fill="#4a4ae0"/>
<text class="ax" x="842.9" y="83.1" textLength="17.4" lengthAdjust="spacingAndGlyphs">1919.10</text>
<rect x="840" y="98.8" width="1.5" height="1" fill="#4a4ae0"/>
<text class="ax" x="842.9" y="100.9" textLength="17.4" lengthAdjust="spacingAndGlyphs">1916.15</text>
<rect x="840" y="116.7" width="1.5" height="1" fill="#4a4ae0"/>
<text class="ax" x="842.9" y="118.8" textLength="17.4" lengthAdjust="spacingAndGlyphs">1913.15</text>
<rect x="840" y="134.5" width="1.5" height="1" fill="#4a4ae0"/>
<text class="ax" x="842.9" y="136.6" textLength="17.4" lengthAdjust="spacingAndGlyphs">1910.20</text>
<rect x="840" y="152.3" width="1.5" height="1" fill="#4a4ae0"/>
<text class="ax" x="842.9" y="154.4" textLength="17.4" lengthAdjust="spacingAndGlyphs">1907.25</text>
<rect x="840" y="170.2" width="1.5" height="1" fill="#4a4ae0"/>
<text class="ax" x="842.9" y="172.3" textLength="17.4" lengthAdjust="spacingAndGlyphs">1904.25</text>
<rect x="840" y="188.0" width="1.5" height="1" fill="#4a4ae0"/>
<text class="ax" x="842.9" y="190.1" textLength="17.4" lengthAdjust="spacingAndGlyphs">1901.30</text>
<rect x="840" y="205.8" width="1.5" height="1" fill="#4a4ae0"/>
<text class="ax" x="842.9" y="207.9" textLength="17.4" lengthAdjust="spacingAndGlyphs">1898.35</text>
<rect x="840" y="223.7" width="1.5" height="1" fill="#4a4ae0"/>
<text class="ax" x="842.9" y="225.8" textLength="17.4" lengthAdjust="spacingAndGlyphs">1895.35</text>
<rect x="840" y="241.5" width="1.5" height="1" fill="#4a4ae0"/>
<text class="ax" x="842.9" y="243.6" textLength="17.4" lengthAdjust="spacingAndGlyphs">1892.40</text>
<rect x="840" y="259.3" width="1.5" height="1" fill="#4a4ae0"/>
<text class="ax" x="842.9" y="261.4" textLength="17.4" lengthAdjust="spacingAndGlyphs">1889.45</text>
<rect x="840" y="277.1" width="1.5" height="1" fill="#4a4ae0"/>
<text class="ax" x="842.9" y="279.2" textLength="17.4" lengthAdjust="spacingAndGlyphs">1886.45</text>
<rect x="840" y="295.0" width="1.5" height="1" fill="#4a4ae0"/>
<text class="ax" x="842.9" y="297.1" textLength="17.4" lengthAdjust="spacingAndGlyphs">1883.50</text>
<rect x="840" y="312.8" width="1.5" height="1" fill="#4a4ae0"/>
<text class="ax" x="842.9" y="314.9" textLength="17.4" lengthAdjust="spacingAndGlyphs">1880.55</text>
<rect x="840" y="330.6" width="1.5" height="1" fill="#4a4ae0"/>
<text class="ax" x="842.9" y="332.7" textLength="17.4" lengthAdjust="spacingAndGlyphs">1877.55</text>
<rect x="840" y="348.5" width="1.5" height="1" fill="#4a4ae0"/>
<text class="ax" x="842.9" y="350.6" textLength="17.4" lengthAdjust="spacingAndGlyphs">1874.60</text>
<rect x="840" y="366.3" width="1.5" height="1" fill="#4a4ae0"/>
<text class="ax" x="842.9" y="368.4" textLength="17.4" lengthAdjust="spacingAndGlyphs">1871.65</text>
<rect x="840" y="384.1" width="1.5" height="1" fill="#4a4ae0"/>
<text class="ax" x="842.9" y="386.2" textLength="17.4" lengthAdjust="spacingAndGlyphs">1868.65</text>
<rect x="840" y="402.0" width="1.5" height="1" fill="#4a4ae0"/>
<text class="ax" x="842.9" y="404.1" textLength="17.4" lengthAdjust="spacingAndGlyphs">1865.70</text>
<rect x="840" y="37" width="22" height="5.7" fill="#0000cc"/>
<text class="ax" x="843" y="41.9" textLength="17.4" lengthAdjust="spacingAndGlyphs" style="fill:#c8c8ff">1926.01</text>
<text class="ax" x="841.5" y="411.1" textLength="7.8" lengthAdjust="spacingAndGlyphs">100</text>
<text class="ax" x="841.5" y="424.3" textLength="5.4" lengthAdjust="spacingAndGlyphs">80</text>
<text class="ax" x="841.5" y="474.1" textLength="5.4" lengthAdjust="spacingAndGlyphs">20</text>
<text class="ax" x="841.5" y="487.1" textLength="2.8" lengthAdjust="spacingAndGlyphs">0</text>
<rect x="2.1" y="489" width="1" height="1.5" fill="#4a4ae0"/>
<text class="ax" x="3.0" y="496.2" textLength="26.5" lengthAdjust="spacingAndGlyphs">10 Jan 2023</text>
<rect x="36.7" y="489" width="1" height="1.5" fill="#4a4ae0"/>
<text class="ax" x="37.6" y="496.2" textLength="28.2" lengthAdjust="spacingAndGlyphs">11 Jan 01:00</text>
<rect x="71.2" y="489" width="1" height="1.5" fill="#4a4ae0"/>
<text class="ax" x="72.1" y="496.2" textLength="28.2" lengthAdjust="spacingAndGlyphs">11 Jan 05:00</text>
<rect x="105.8" y="489" width="1" height="1.5" fill="#4a4ae0"/>
<text class="ax" x="106.7" y="496.2" textLength="28.2" lengthAdjust="spacingAndGlyphs">11 Jan 09:00</text>
<rect x="140.3" y="489" width="1" height="1.5" fill="#4a4ae0"/>
<text class="ax" x="141.2" y="496.2" textLength="28.2" lengthAdjust="spacingAndGlyphs">11 Jan 13:00</text>
<rect x="174.9" y="489" width="1" height="1.5" fill="#4a4ae0"/>
<text class="ax" x="175.8" y="496.2" textLength="28.2" lengthAdjust="spacingAndGlyphs">11 Jan 17:00</text>
<rect x="209.5" y="489" width="1" height="1.5" fill="#4a4ae0"/>
<text class="ax" x="210.4" y="496.2" textLength="28.2" lengthAdjust="spacingAndGlyphs">11 Jan 21:00</text>
<rect x="244.0" y="489" width="1" height="1.5" fill="#4a4ae0"/>
<text class="ax" x="244.9" y="496.2" textLength="28.2" lengthAdjust="spacingAndGlyphs">12 Jan 02:00</text>
<rect x="278.6" y="489" width="1" height="1.5" fill="#4a4ae0"/>
<text class="ax" x="279.5" y="496.2" textLength="28.2" lengthAdjust="spacingAndGlyphs">12 Jan 06:00</text>
<rect x="313.1" y="489" width="1" height="1.5" fill="#4a4ae0"/>
<text class="ax" x="314.0" y="496.2" textLength="28.2" lengthAdjust="spacingAndGlyphs">12 Jan 10:00</text>
<rect x="347.7" y="489" width="1" height="1.5" fill="#4a4ae0"/>
<text class="ax" x="348.6" y="496.2" textLength="28.2" lengthAdjust="spacingAndGlyphs">12 Jan 14:00</text>
<rect x="382.3" y="489" width="1" height="1.5" fill="#4a4ae0"/>
<text class="ax" x="383.2" y="496.2" textLength="28.2" lengthAdjust="spacingAndGlyphs">12 Jan 18:00</text>
<rect x="416.8" y="489" width="1" height="1.5" fill="#4a4ae0"/>
<text class="ax" x="417.7" y="496.2" textLength="28.2" lengthAdjust="spacingAndGlyphs">12 Jan 22:00</text>
<rect x="451.4" y="489" width="1" height="1.5" fill="#4a4ae0"/>
<text class="ax" x="452.3" y="496.2" textLength="28.2" lengthAdjust="spacingAndGlyphs">13 Jan 03:00</text>
<rect x="485.9" y="489" width="1" height="1.5" fill="#4a4ae0"/>
<text class="ax" x="486.8" y="496.2" textLength="28.2" lengthAdjust="spacingAndGlyphs">13 Jan 07:00</text>
<rect x="520.5" y="489" width="1" height="1.5" fill="#4a4ae0"/>
<text class="ax" x="521.4" y="496.2" textLength="28.2" lengthAdjust="spacingAndGlyphs">13 Jan 11:00</text>
<rect x="555.1" y="489" width="1" height="1.5" fill="#4a4ae0"/>
<text class="ax" x="556.0" y="496.2" textLength="28.2" lengthAdjust="spacingAndGlyphs">13 Jan 15:00</text>
<rect x="589.6" y="489" width="1" height="1.5" fill="#4a4ae0"/>
<text class="ax" x="590.5" y="496.2" textLength="28.2" lengthAdjust="spacingAndGlyphs">13 Jan 19:00</text>
<rect x="624.2" y="489" width="1" height="1.5" fill="#4a4ae0"/>
<text class="ax" x="625.1" y="496.2" textLength="28.2" lengthAdjust="spacingAndGlyphs">13 Jan 23:00</text>
<rect x="658.7" y="489" width="1" height="1.5" fill="#4a4ae0"/>
<text class="ax" x="659.6" y="496.2" textLength="28.2" lengthAdjust="spacingAndGlyphs">16 Jan 04:00</text>
<path d="M4.3,5.6 L7.9,5.6 L6.1,7.9 Z" fill="#0000b0"/>
<text class="ax2" x="10.7" y="8.9" textLength="36.1" lengthAdjust="spacingAndGlyphs">XAUUSD#,M15</text>
<text class="ax2" x="50.4" y="8.9" textLength="75.6" lengthAdjust="spacingAndGlyphs">1928.21 1928.93 1925.99 1926.01</text>
<text class="ax2" x="5" y="412.6" textLength="65.8" lengthAdjust="spacingAndGlyphs">Stoch(5,3,3) 81.6864 87.3088</text>
<path d="M144.22,278.11 L676.05,51.76 L676.70,53.27 L680.80,47.60 L673.87,46.65 L674.52,48.17 L143.78,277.09 Z" fill="#ffba00"/>
<path d="M188.22,393.70 L707.46,170.83 L708.04,172.16 L711.80,167.00 L705.46,166.20 L706.04,167.53 L187.78,392.70 Z" fill="#ffba00"/>
<text class="cn" x="533.7" y="25.1" font-size="10.9" textLength="23.1" lengthAdjust="spacingAndGlyphs">阻力</text>
<text class="cn" x="560.3" y="25.1" font-size="12.4" textLength="40.8" lengthAdjust="spacingAndGlyphs">1926.43</text>
<text class="cn" x="600.7" y="25.1" font-size="10.9" textLength="11.7" lengthAdjust="spacingAndGlyphs">至</text>
<text class="cn" x="611.9" y="25.1" font-size="12.4" textLength="43.3" lengthAdjust="spacingAndGlyphs">1930.50</text>
<text class="cn" x="713.3" y="167.3" font-size="10.9" textLength="23.1" lengthAdjust="spacingAndGlyphs">支撑</text>
<text class="cn" x="740.0" y="167.3" font-size="12.4" textLength="41.3" lengthAdjust="spacingAndGlyphs">1909.38</text>
<text class="cn" x="780.9" y="167.3" font-size="10.9" textLength="11.7" lengthAdjust="spacingAndGlyphs">至</text>
<text class="cn" x="792.0" y="167.3" font-size="12.4" textLength="42.4" lengthAdjust="spacingAndGlyphs">1913.08</text>
<text class="cn" x="3.6" y="401.6" font-size="12.4" textLength="158.4" lengthAdjust="spacingAndGlyphs">2023<tspan font-size="10.9">年</tspan>1<tspan font-size="10.9">月</tspan>16<tspan font-size="10.9">日</tspan> <tspan font-size="10.9">黄金</tspan>15<tspan font-size="10.9">分钟</tspan>K<tspan font-size="10.9">线</tspan></text>
</svg></body></html>
